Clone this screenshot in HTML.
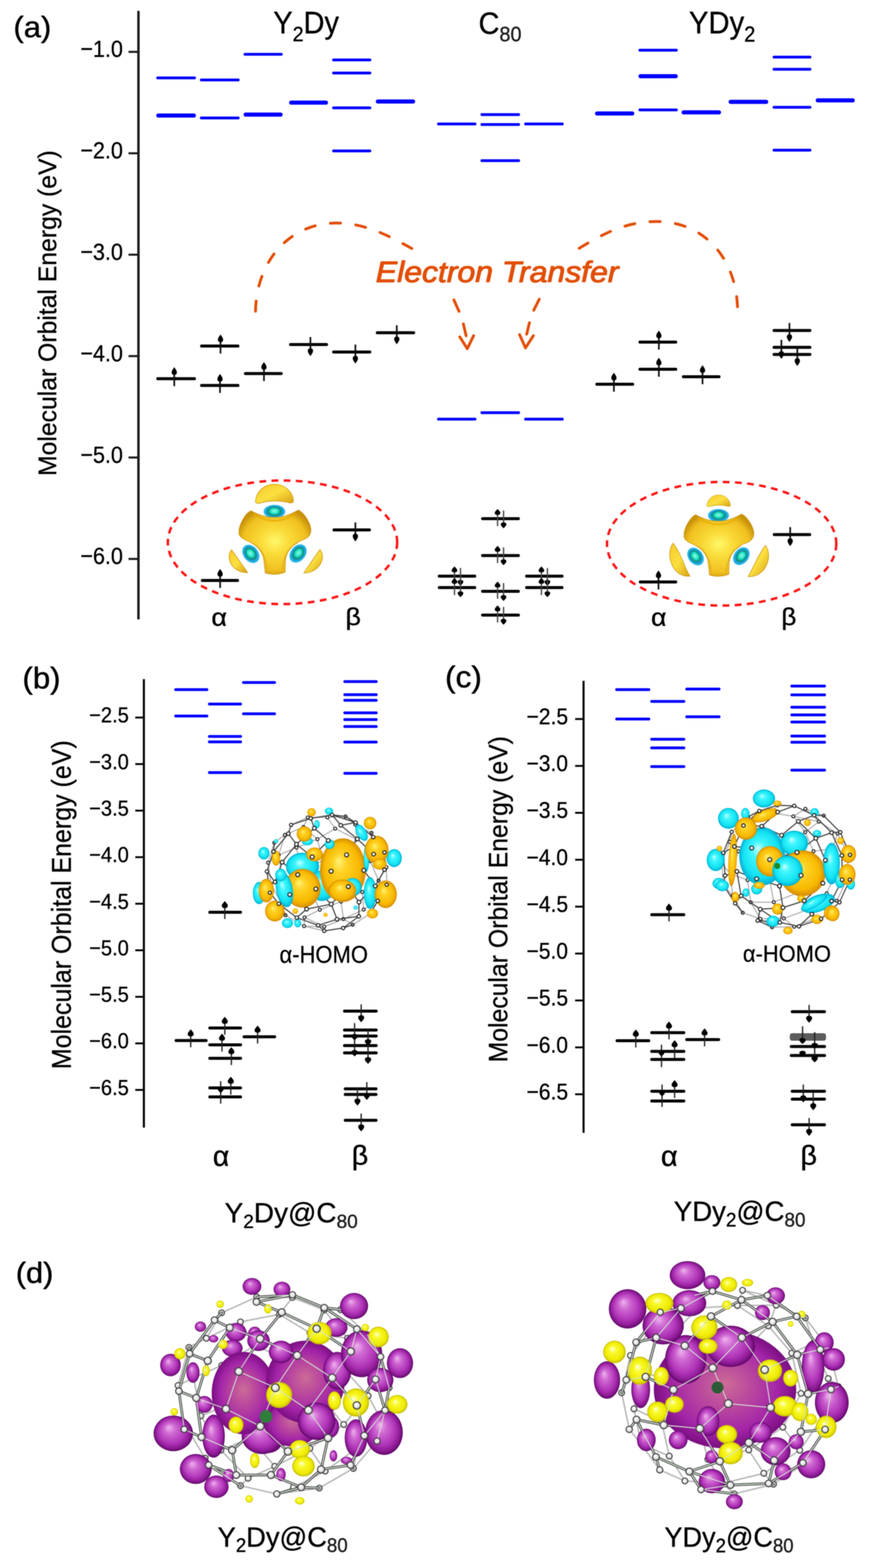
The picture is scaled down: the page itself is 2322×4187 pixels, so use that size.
<!DOCTYPE html><html><head><meta charset="utf-8"><style>html,body{margin:0;padding:0;background:#fff;}svg{display:block;filter:blur(1px);}</style></head><body>
<svg width="2322" height="4187" viewBox="0 0 2322 4187">
<rect width="2322" height="4187" fill="#fff"/>
<line x1="369.5" y1="29" x2="369.5" y2="1654" stroke="#1a1a1a" stroke-width="6.5"/>
<line x1="343" y1="138.5" x2="370" y2="138.5" stroke="#1a1a1a" stroke-width="5.5"/>
<line x1="343" y1="409.3" x2="370" y2="409.3" stroke="#1a1a1a" stroke-width="5.5"/>
<line x1="343" y1="680.1" x2="370" y2="680.1" stroke="#1a1a1a" stroke-width="5.5"/>
<line x1="343" y1="950.9" x2="370" y2="950.9" stroke="#1a1a1a" stroke-width="5.5"/>
<line x1="343" y1="1221.7" x2="370" y2="1221.7" stroke="#1a1a1a" stroke-width="5.5"/>
<line x1="343" y1="1492.5" x2="370" y2="1492.5" stroke="#1a1a1a" stroke-width="5.5"/>
<line x1="420.8" y1="208.0" x2="519.2" y2="208.0" stroke="#0000ff" stroke-width="7.5" stroke-linecap="round"/>
<line x1="422.5" y1="308.5" x2="517.5" y2="308.5" stroke="#0000ff" stroke-width="11" stroke-linecap="round"/>
<line x1="537.2" y1="213.5" x2="635.8" y2="213.5" stroke="#0000ff" stroke-width="7.5" stroke-linecap="round"/>
<line x1="537.2" y1="315.0" x2="635.8" y2="315.0" stroke="#0000ff" stroke-width="7.5" stroke-linecap="round"/>
<line x1="653.8" y1="145.0" x2="750.8" y2="145.0" stroke="#0000ff" stroke-width="7.5" stroke-linecap="round"/>
<line x1="655.5" y1="306.0" x2="749.0" y2="306.0" stroke="#0000ff" stroke-width="11" stroke-linecap="round"/>
<line x1="777.0" y1="274.0" x2="870.0" y2="274.0" stroke="#0000ff" stroke-width="11" stroke-linecap="round"/>
<line x1="890.2" y1="160.0" x2="987.2" y2="160.0" stroke="#0000ff" stroke-width="7.5" stroke-linecap="round"/>
<line x1="890.2" y1="195.0" x2="987.2" y2="195.0" stroke="#0000ff" stroke-width="7.5" stroke-linecap="round"/>
<line x1="890.2" y1="288.0" x2="987.2" y2="288.0" stroke="#0000ff" stroke-width="7.5" stroke-linecap="round"/>
<line x1="890.2" y1="403.0" x2="987.2" y2="403.0" stroke="#0000ff" stroke-width="7.5" stroke-linecap="round"/>
<line x1="1008.5" y1="271.0" x2="1102.5" y2="271.0" stroke="#0000ff" stroke-width="11" stroke-linecap="round"/>
<line x1="1170.2" y1="331.0" x2="1267.8" y2="331.0" stroke="#0000ff" stroke-width="7.5" stroke-linecap="round"/>
<line x1="1170.2" y1="1119.3" x2="1267.8" y2="1119.3" stroke="#0000ff" stroke-width="7.5" stroke-linecap="round"/>
<line x1="1286.2" y1="306.0" x2="1384.2" y2="306.0" stroke="#0000ff" stroke-width="7.5" stroke-linecap="round"/>
<line x1="1286.2" y1="332.5" x2="1384.2" y2="332.5" stroke="#0000ff" stroke-width="7.5" stroke-linecap="round"/>
<line x1="1286.2" y1="429.0" x2="1384.2" y2="429.0" stroke="#0000ff" stroke-width="7.5" stroke-linecap="round"/>
<line x1="1286.2" y1="1102.0" x2="1384.2" y2="1102.0" stroke="#0000ff" stroke-width="7.5" stroke-linecap="round"/>
<line x1="1402.8" y1="331.0" x2="1500.8" y2="331.0" stroke="#0000ff" stroke-width="7.5" stroke-linecap="round"/>
<line x1="1402.8" y1="1119.3" x2="1500.8" y2="1119.3" stroke="#0000ff" stroke-width="7.5" stroke-linecap="round"/>
<line x1="1593.5" y1="303.0" x2="1687.5" y2="303.0" stroke="#0000ff" stroke-width="11" stroke-linecap="round"/>
<line x1="1707.8" y1="134.0" x2="1805.2" y2="134.0" stroke="#0000ff" stroke-width="7.5" stroke-linecap="round"/>
<line x1="1709.5" y1="203.5" x2="1803.5" y2="203.5" stroke="#0000ff" stroke-width="11" stroke-linecap="round"/>
<line x1="1707.8" y1="293.5" x2="1805.2" y2="293.5" stroke="#0000ff" stroke-width="7.5" stroke-linecap="round"/>
<line x1="1824.5" y1="300.0" x2="1919.0" y2="300.0" stroke="#0000ff" stroke-width="11" stroke-linecap="round"/>
<line x1="1950.0" y1="272.0" x2="2045.0" y2="272.0" stroke="#0000ff" stroke-width="11" stroke-linecap="round"/>
<line x1="2065.8" y1="152.5" x2="2161.8" y2="152.5" stroke="#0000ff" stroke-width="7.5" stroke-linecap="round"/>
<line x1="2065.8" y1="185.0" x2="2161.8" y2="185.0" stroke="#0000ff" stroke-width="7.5" stroke-linecap="round"/>
<line x1="2065.8" y1="286.5" x2="2161.8" y2="286.5" stroke="#0000ff" stroke-width="7.5" stroke-linecap="round"/>
<line x1="2065.8" y1="401.0" x2="2161.8" y2="401.0" stroke="#0000ff" stroke-width="7.5" stroke-linecap="round"/>
<line x1="2182.5" y1="268.0" x2="2276.0" y2="268.0" stroke="#0000ff" stroke-width="11" stroke-linecap="round"/>
<line x1="421.0" y1="1011.2" x2="519.0" y2="1011.2" stroke="#000" stroke-width="8" stroke-linecap="round"/>
<line x1="465.1" y1="990.7" x2="465.1" y2="1031.2" stroke="#111" stroke-width="4.5"/>
<path d="M465.1,980.2 C467.6,984.8 472.1,989.0 472.1,994.5 C472.1,999.1 468.7,1001.2 465.1,1001.2 C461.5,1001.2 458.1,999.1 458.1,994.5 C458.1,989.0 462.6,984.8 465.1,980.2 Z" fill="#000"/>
<line x1="538.0" y1="924.0" x2="635.0" y2="924.0" stroke="#000" stroke-width="8" stroke-linecap="round"/>
<line x1="588.5" y1="903.5" x2="588.5" y2="944.0" stroke="#111" stroke-width="4.5"/>
<path d="M588.5,893.0 C591.0,897.6 595.5,901.8 595.5,907.3 C595.5,911.9 592.1,914.0 588.5,914.0 C584.9,914.0 581.5,911.9 581.5,907.3 C581.5,901.8 586.0,897.6 588.5,893.0 Z" fill="#000"/>
<line x1="538.0" y1="1029.2" x2="635.0" y2="1029.2" stroke="#000" stroke-width="8" stroke-linecap="round"/>
<line x1="587.2" y1="1008.7" x2="587.2" y2="1049.2" stroke="#111" stroke-width="4.5"/>
<path d="M587.2,998.2 C589.7,1002.8 594.2,1007.0 594.2,1012.5 C594.2,1017.1 590.8,1019.2 587.2,1019.2 C583.6,1019.2 580.2,1017.1 580.2,1012.5 C580.2,1007.0 584.7,1002.8 587.2,998.2 Z" fill="#000"/>
<line x1="655.0" y1="997.5" x2="750.5" y2="997.5" stroke="#000" stroke-width="8" stroke-linecap="round"/>
<line x1="704.5" y1="977.0" x2="704.5" y2="1017.5" stroke="#111" stroke-width="4.5"/>
<path d="M704.5,966.5 C707.0,971.1 711.5,975.3 711.5,980.8 C711.5,985.4 708.1,987.5 704.5,987.5 C700.9,987.5 697.5,985.4 697.5,980.8 C697.5,975.3 702.0,971.1 704.5,966.5 Z" fill="#000"/>
<line x1="775.5" y1="920.0" x2="871.5" y2="920.0" stroke="#000" stroke-width="8" stroke-linecap="round"/>
<line x1="828.5" y1="900.0" x2="828.5" y2="940.5" stroke="#111" stroke-width="4.5"/>
<path d="M828.5,951.0 C831.0,946.4 835.5,942.2 835.5,936.7 C835.5,932.1 832.1,930.0 828.5,930.0 C824.9,930.0 821.5,932.1 821.5,936.7 C821.5,942.2 826.0,946.4 828.5,951.0 Z" fill="#000"/>
<line x1="890.5" y1="940.0" x2="987.0" y2="940.0" stroke="#000" stroke-width="8" stroke-linecap="round"/>
<line x1="948.5" y1="920.0" x2="948.5" y2="960.5" stroke="#111" stroke-width="4.5"/>
<path d="M948.5,971.0 C951.0,966.4 955.5,962.2 955.5,956.7 C955.5,952.1 952.1,950.0 948.5,950.0 C944.9,950.0 941.5,952.1 941.5,956.7 C941.5,962.2 946.0,966.4 948.5,971.0 Z" fill="#000"/>
<line x1="1007.0" y1="888.5" x2="1104.0" y2="888.5" stroke="#000" stroke-width="8" stroke-linecap="round"/>
<line x1="1059.0" y1="868.5" x2="1059.0" y2="909.0" stroke="#111" stroke-width="4.5"/>
<path d="M1059.0,919.5 C1061.5,914.9 1066.0,910.7 1066.0,905.2 C1066.0,900.6 1062.6,898.5 1059.0,898.5 C1055.4,898.5 1052.0,900.6 1052.0,905.2 C1052.0,910.7 1056.5,914.9 1059.0,919.5 Z" fill="#000"/>
<line x1="540.0" y1="1550.0" x2="634.0" y2="1550.0" stroke="#000" stroke-width="8" stroke-linecap="round"/>
<line x1="587.5" y1="1529.5" x2="587.5" y2="1570.0" stroke="#111" stroke-width="4.5"/>
<path d="M587.5,1519.0 C590.0,1523.6 594.5,1527.8 594.5,1533.3 C594.5,1537.9 591.1,1540.0 587.5,1540.0 C583.9,1540.0 580.5,1537.9 580.5,1533.3 C580.5,1527.8 585.0,1523.6 587.5,1519.0 Z" fill="#000"/>
<line x1="891.5" y1="1415.0" x2="986.0" y2="1415.0" stroke="#000" stroke-width="8" stroke-linecap="round"/>
<line x1="948.5" y1="1395.0" x2="948.5" y2="1435.5" stroke="#111" stroke-width="4.5"/>
<path d="M948.5,1446.0 C951.0,1441.4 955.5,1437.2 955.5,1431.7 C955.5,1427.1 952.1,1425.0 948.5,1425.0 C944.9,1425.0 941.5,1427.1 941.5,1431.7 C941.5,1437.2 946.0,1441.4 948.5,1446.0 Z" fill="#000"/>
<line x1="1593.0" y1="1026.0" x2="1688.5" y2="1026.0" stroke="#000" stroke-width="8" stroke-linecap="round"/>
<line x1="1638.5" y1="1005.5" x2="1638.5" y2="1046.0" stroke="#111" stroke-width="4.5"/>
<path d="M1638.5,995.0 C1641.0,999.6 1645.5,1003.8 1645.5,1009.3 C1645.5,1013.9 1642.1,1016.0 1638.5,1016.0 C1634.9,1016.0 1631.5,1013.9 1631.5,1009.3 C1631.5,1003.8 1636.0,999.6 1638.5,995.0 Z" fill="#000"/>
<line x1="1708.0" y1="913.5" x2="1803.5" y2="913.5" stroke="#000" stroke-width="8" stroke-linecap="round"/>
<line x1="1758.5" y1="893.0" x2="1758.5" y2="933.5" stroke="#111" stroke-width="4.5"/>
<path d="M1758.5,882.5 C1761.0,887.1 1765.5,891.3 1765.5,896.8 C1765.5,901.4 1762.1,903.5 1758.5,903.5 C1754.9,903.5 1751.5,901.4 1751.5,896.8 C1751.5,891.3 1756.0,887.1 1758.5,882.5 Z" fill="#000"/>
<line x1="1708.0" y1="986.0" x2="1803.5" y2="986.0" stroke="#000" stroke-width="8" stroke-linecap="round"/>
<line x1="1758.5" y1="965.5" x2="1758.5" y2="1006.0" stroke="#111" stroke-width="4.5"/>
<path d="M1758.5,955.0 C1761.0,959.6 1765.5,963.8 1765.5,969.3 C1765.5,973.9 1762.1,976.0 1758.5,976.0 C1754.9,976.0 1751.5,973.9 1751.5,969.3 C1751.5,963.8 1756.0,959.6 1758.5,955.0 Z" fill="#000"/>
<line x1="1824.0" y1="1006.0" x2="1919.0" y2="1006.0" stroke="#000" stroke-width="8" stroke-linecap="round"/>
<line x1="1875.0" y1="985.5" x2="1875.0" y2="1026.0" stroke="#111" stroke-width="4.5"/>
<path d="M1875.0,975.0 C1877.5,979.6 1882.0,983.8 1882.0,989.3 C1882.0,993.9 1878.6,996.0 1875.0,996.0 C1871.4,996.0 1868.0,993.9 1868.0,989.3 C1868.0,983.8 1872.5,979.6 1875.0,975.0 Z" fill="#000"/>
<line x1="2066.0" y1="882.5" x2="2161.5" y2="882.5" stroke="#000" stroke-width="8" stroke-linecap="round"/>
<line x1="2107.0" y1="862.5" x2="2107.0" y2="903.0" stroke="#111" stroke-width="4.5"/>
<path d="M2107.0,913.5 C2109.5,908.9 2114.0,904.7 2114.0,899.2 C2114.0,894.6 2110.6,892.5 2107.0,892.5 C2103.4,892.5 2100.0,894.6 2100.0,899.2 C2100.0,904.7 2104.5,908.9 2107.0,913.5 Z" fill="#000"/>
<line x1="2066.0" y1="927.5" x2="2161.5" y2="927.5" stroke="#000" stroke-width="8" stroke-linecap="round"/>
<line x1="2085.5" y1="907.5" x2="2085.5" y2="948.0" stroke="#111" stroke-width="4.5"/>
<path d="M2085.5,958.5 C2088.0,953.9 2092.5,949.7 2092.5,944.2 C2092.5,939.6 2089.1,937.5 2085.5,937.5 C2081.9,937.5 2078.5,939.6 2078.5,944.2 C2078.5,949.7 2083.0,953.9 2085.5,958.5 Z" fill="#000"/>
<line x1="2066.0" y1="946.5" x2="2161.5" y2="946.5" stroke="#000" stroke-width="8" stroke-linecap="round"/>
<line x1="2128.0" y1="926.5" x2="2128.0" y2="967.0" stroke="#111" stroke-width="4.5"/>
<path d="M2128.0,977.5 C2130.5,972.9 2135.0,968.7 2135.0,963.2 C2135.0,958.6 2131.6,956.5 2128.0,956.5 C2124.4,956.5 2121.0,958.6 2121.0,963.2 C2121.0,968.7 2125.5,972.9 2128.0,977.5 Z" fill="#000"/>
<line x1="1709.0" y1="1554.0" x2="1803.5" y2="1554.0" stroke="#000" stroke-width="8" stroke-linecap="round"/>
<line x1="1757.5" y1="1533.5" x2="1757.5" y2="1574.0" stroke="#111" stroke-width="4.5"/>
<path d="M1757.5,1523.0 C1760.0,1527.6 1764.5,1531.8 1764.5,1537.3 C1764.5,1541.9 1761.1,1544.0 1757.5,1544.0 C1753.9,1544.0 1750.5,1541.9 1750.5,1537.3 C1750.5,1531.8 1755.0,1527.6 1757.5,1523.0 Z" fill="#000"/>
<line x1="2066.5" y1="1427.5" x2="2161.0" y2="1427.5" stroke="#000" stroke-width="8" stroke-linecap="round"/>
<line x1="2109.0" y1="1407.5" x2="2109.0" y2="1448.0" stroke="#111" stroke-width="4.5"/>
<path d="M2109.0,1458.5 C2111.5,1453.9 2116.0,1449.7 2116.0,1444.2 C2116.0,1439.6 2112.6,1437.5 2109.0,1437.5 C2105.4,1437.5 2102.0,1439.6 2102.0,1444.2 C2102.0,1449.7 2106.5,1453.9 2109.0,1458.5 Z" fill="#000"/>
<line x1="1288.0" y1="1385.0" x2="1383.5" y2="1385.0" stroke="#000" stroke-width="8" stroke-linecap="round"/>
<line x1="1328.0" y1="1367.0" x2="1328.0" y2="1405.0" stroke="#444" stroke-width="3.5"/>
<path d="M1328.0,1359.0 C1330.7,1362.5 1335.5,1365.7 1335.5,1369.9 C1335.5,1373.4 1331.9,1375.0 1328.0,1375.0 C1324.1,1375.0 1320.5,1373.4 1320.5,1369.9 C1320.5,1365.7 1325.3,1362.5 1328.0,1359.0 Z" fill="#000"/>
<line x1="1344.0" y1="1363.0" x2="1344.0" y2="1403.0" stroke="#444" stroke-width="3.5"/>
<path d="M1344.0,1411.0 C1346.7,1407.5 1351.5,1404.3 1351.5,1400.1 C1351.5,1396.6 1347.9,1395.0 1344.0,1395.0 C1340.1,1395.0 1336.5,1396.6 1336.5,1400.1 C1336.5,1404.3 1341.3,1407.5 1344.0,1411.0 Z" fill="#000"/>
<line x1="1288.0" y1="1483.5" x2="1383.5" y2="1483.5" stroke="#000" stroke-width="8" stroke-linecap="round"/>
<line x1="1328.0" y1="1465.5" x2="1328.0" y2="1503.5" stroke="#444" stroke-width="3.5"/>
<path d="M1328.0,1457.5 C1330.7,1461.0 1335.5,1464.2 1335.5,1468.4 C1335.5,1471.9 1331.9,1473.5 1328.0,1473.5 C1324.1,1473.5 1320.5,1471.9 1320.5,1468.4 C1320.5,1464.2 1325.3,1461.0 1328.0,1457.5 Z" fill="#000"/>
<line x1="1344.0" y1="1461.5" x2="1344.0" y2="1501.5" stroke="#444" stroke-width="3.5"/>
<path d="M1344.0,1509.5 C1346.7,1506.0 1351.5,1502.8 1351.5,1498.6 C1351.5,1495.1 1347.9,1493.5 1344.0,1493.5 C1340.1,1493.5 1336.5,1495.1 1336.5,1498.6 C1336.5,1502.8 1341.3,1506.0 1344.0,1509.5 Z" fill="#000"/>
<line x1="1288.0" y1="1579.0" x2="1383.5" y2="1579.0" stroke="#000" stroke-width="8" stroke-linecap="round"/>
<line x1="1328.0" y1="1561.0" x2="1328.0" y2="1599.0" stroke="#444" stroke-width="3.5"/>
<path d="M1328.0,1553.0 C1330.7,1556.5 1335.5,1559.7 1335.5,1563.9 C1335.5,1567.4 1331.9,1569.0 1328.0,1569.0 C1324.1,1569.0 1320.5,1567.4 1320.5,1563.9 C1320.5,1559.7 1325.3,1556.5 1328.0,1553.0 Z" fill="#000"/>
<line x1="1344.0" y1="1557.0" x2="1344.0" y2="1597.0" stroke="#444" stroke-width="3.5"/>
<path d="M1344.0,1605.0 C1346.7,1601.5 1351.5,1598.3 1351.5,1594.1 C1351.5,1590.6 1347.9,1589.0 1344.0,1589.0 C1340.1,1589.0 1336.5,1590.6 1336.5,1594.1 C1336.5,1598.3 1341.3,1601.5 1344.0,1605.0 Z" fill="#000"/>
<line x1="1288.0" y1="1642.5" x2="1383.5" y2="1642.5" stroke="#000" stroke-width="8" stroke-linecap="round"/>
<line x1="1328.0" y1="1624.5" x2="1328.0" y2="1662.5" stroke="#444" stroke-width="3.5"/>
<path d="M1328.0,1616.5 C1330.7,1620.0 1335.5,1623.2 1335.5,1627.4 C1335.5,1630.9 1331.9,1632.5 1328.0,1632.5 C1324.1,1632.5 1320.5,1630.9 1320.5,1627.4 C1320.5,1623.2 1325.3,1620.0 1328.0,1616.5 Z" fill="#000"/>
<line x1="1344.0" y1="1620.5" x2="1344.0" y2="1660.5" stroke="#444" stroke-width="3.5"/>
<path d="M1344.0,1668.5 C1346.7,1665.0 1351.5,1661.8 1351.5,1657.6 C1351.5,1654.1 1347.9,1652.5 1344.0,1652.5 C1340.1,1652.5 1336.5,1654.1 1336.5,1657.6 C1336.5,1661.8 1341.3,1665.0 1344.0,1668.5 Z" fill="#000"/>
<line x1="1172.5" y1="1538.5" x2="1267.0" y2="1538.5" stroke="#000" stroke-width="8" stroke-linecap="round"/>
<line x1="1213.0" y1="1520.5" x2="1213.0" y2="1558.5" stroke="#444" stroke-width="3.5"/>
<path d="M1213.0,1512.5 C1215.7,1516.0 1220.5,1519.2 1220.5,1523.4 C1220.5,1526.9 1216.9,1528.5 1213.0,1528.5 C1209.1,1528.5 1205.5,1526.9 1205.5,1523.4 C1205.5,1519.2 1210.3,1516.0 1213.0,1512.5 Z" fill="#000"/>
<line x1="1229.0" y1="1516.5" x2="1229.0" y2="1556.5" stroke="#444" stroke-width="3.5"/>
<path d="M1229.0,1564.5 C1231.7,1561.0 1236.5,1557.8 1236.5,1553.6 C1236.5,1550.1 1232.9,1548.5 1229.0,1548.5 C1225.1,1548.5 1221.5,1550.1 1221.5,1553.6 C1221.5,1557.8 1226.3,1561.0 1229.0,1564.5 Z" fill="#000"/>
<line x1="1172.5" y1="1569.0" x2="1267.0" y2="1569.0" stroke="#000" stroke-width="8" stroke-linecap="round"/>
<line x1="1213.0" y1="1551.0" x2="1213.0" y2="1589.0" stroke="#444" stroke-width="3.5"/>
<path d="M1213.0,1543.0 C1215.7,1546.5 1220.5,1549.7 1220.5,1553.9 C1220.5,1557.4 1216.9,1559.0 1213.0,1559.0 C1209.1,1559.0 1205.5,1557.4 1205.5,1553.9 C1205.5,1549.7 1210.3,1546.5 1213.0,1543.0 Z" fill="#000"/>
<line x1="1229.0" y1="1547.0" x2="1229.0" y2="1587.0" stroke="#444" stroke-width="3.5"/>
<path d="M1229.0,1595.0 C1231.7,1591.5 1236.5,1588.3 1236.5,1584.1 C1236.5,1580.6 1232.9,1579.0 1229.0,1579.0 C1225.1,1579.0 1221.5,1580.6 1221.5,1584.1 C1221.5,1588.3 1226.3,1591.5 1229.0,1595.0 Z" fill="#000"/>
<line x1="1405.5" y1="1538.5" x2="1500.0" y2="1538.5" stroke="#000" stroke-width="8" stroke-linecap="round"/>
<line x1="1445.0" y1="1520.5" x2="1445.0" y2="1558.5" stroke="#444" stroke-width="3.5"/>
<path d="M1445.0,1512.5 C1447.7,1516.0 1452.5,1519.2 1452.5,1523.4 C1452.5,1526.9 1448.9,1528.5 1445.0,1528.5 C1441.1,1528.5 1437.5,1526.9 1437.5,1523.4 C1437.5,1519.2 1442.3,1516.0 1445.0,1512.5 Z" fill="#000"/>
<line x1="1461.0" y1="1516.5" x2="1461.0" y2="1556.5" stroke="#444" stroke-width="3.5"/>
<path d="M1461.0,1564.5 C1463.7,1561.0 1468.5,1557.8 1468.5,1553.6 C1468.5,1550.1 1464.9,1548.5 1461.0,1548.5 C1457.1,1548.5 1453.5,1550.1 1453.5,1553.6 C1453.5,1557.8 1458.3,1561.0 1461.0,1564.5 Z" fill="#000"/>
<line x1="1405.5" y1="1569.0" x2="1500.0" y2="1569.0" stroke="#000" stroke-width="8" stroke-linecap="round"/>
<line x1="1445.0" y1="1551.0" x2="1445.0" y2="1589.0" stroke="#444" stroke-width="3.5"/>
<path d="M1445.0,1543.0 C1447.7,1546.5 1452.5,1549.7 1452.5,1553.9 C1452.5,1557.4 1448.9,1559.0 1445.0,1559.0 C1441.1,1559.0 1437.5,1557.4 1437.5,1553.9 C1437.5,1549.7 1442.3,1546.5 1445.0,1543.0 Z" fill="#000"/>
<line x1="1461.0" y1="1547.0" x2="1461.0" y2="1587.0" stroke="#444" stroke-width="3.5"/>
<path d="M1461.0,1595.0 C1463.7,1591.5 1468.5,1588.3 1468.5,1584.1 C1468.5,1580.6 1464.9,1579.0 1461.0,1579.0 C1457.1,1579.0 1453.5,1580.6 1453.5,1584.1 C1453.5,1588.3 1458.3,1591.5 1461.0,1595.0 Z" fill="#000"/>
<path d="M682,831 C684,701 769,595.5 899,595.5 C979,595.5 1046,634.7 1100,664" fill="none" stroke="#e24e06" stroke-width="7.5" stroke-linecap="round" stroke-dasharray="27,41"/>
<path d="M1546,663 C1616,619.25 1677,591.5 1752,591.5 C1880,591.5 1966,690 1968.6,827" fill="none" stroke="#e24e06" stroke-width="7.5" stroke-linecap="round" stroke-dasharray="27,41"/>
<path d="M1211.5,801 L1225.1,831.4 M1236.7,865 L1244,896.5 M1227.2,899.7 L1247.2,931.2 L1264,896.5" fill="none" stroke="#e24e06" stroke-width="7.5" stroke-linecap="round" stroke-linejoin="round"/>
<path d="M1439.3,798.9 L1424.6,828.3 M1413,861.9 L1405.7,892.3 M1386.8,893.4 L1402.5,929 L1423.5,896.5" fill="none" stroke="#e24e06" stroke-width="7.5" stroke-linecap="round" stroke-linejoin="round"/>
<ellipse cx="754" cy="1448" rx="306" ry="165" fill="none" stroke="#ff1414" stroke-width="6.5" stroke-dasharray="18,14.5"/>
<ellipse cx="1926" cy="1452" rx="306" ry="165" fill="none" stroke="#ff1414" stroke-width="6.5" stroke-dasharray="18,14.5"/>
<line x1="384" y1="1813.5" x2="384" y2="3011" stroke="#000" stroke-width="5.5"/>
<line x1="1557.5" y1="1818" x2="1557.5" y2="3025" stroke="#000" stroke-width="5.5"/>
<line x1="361" y1="1916.0" x2="384" y2="1916.0" stroke="#000" stroke-width="5"/>
<line x1="1535" y1="1920.0" x2="1558" y2="1920.0" stroke="#000" stroke-width="5"/>
<line x1="361" y1="2040.3" x2="384" y2="2040.3" stroke="#000" stroke-width="5"/>
<line x1="1535" y1="2045.2" x2="1558" y2="2045.2" stroke="#000" stroke-width="5"/>
<line x1="361" y1="2164.6" x2="384" y2="2164.6" stroke="#000" stroke-width="5"/>
<line x1="1535" y1="2170.5" x2="1558" y2="2170.5" stroke="#000" stroke-width="5"/>
<line x1="361" y1="2288.9" x2="384" y2="2288.9" stroke="#000" stroke-width="5"/>
<line x1="1535" y1="2295.8" x2="1558" y2="2295.8" stroke="#000" stroke-width="5"/>
<line x1="361" y1="2413.2" x2="384" y2="2413.2" stroke="#000" stroke-width="5"/>
<line x1="1535" y1="2421.0" x2="1558" y2="2421.0" stroke="#000" stroke-width="5"/>
<line x1="361" y1="2537.5" x2="384" y2="2537.5" stroke="#000" stroke-width="5"/>
<line x1="1535" y1="2546.2" x2="1558" y2="2546.2" stroke="#000" stroke-width="5"/>
<line x1="361" y1="2661.8" x2="384" y2="2661.8" stroke="#000" stroke-width="5"/>
<line x1="1535" y1="2671.5" x2="1558" y2="2671.5" stroke="#000" stroke-width="5"/>
<line x1="361" y1="2786.1" x2="384" y2="2786.1" stroke="#000" stroke-width="5"/>
<line x1="1535" y1="2796.8" x2="1558" y2="2796.8" stroke="#000" stroke-width="5"/>
<line x1="361" y1="2910.4" x2="384" y2="2910.4" stroke="#000" stroke-width="5"/>
<line x1="1535" y1="2922.0" x2="1558" y2="2922.0" stroke="#000" stroke-width="5"/>
<line x1="468.8" y1="1841.5" x2="552.2" y2="1841.5" stroke="#0000ff" stroke-width="7.5" stroke-linecap="round"/>
<line x1="468.8" y1="1912.0" x2="552.2" y2="1912.0" stroke="#0000ff" stroke-width="7.5" stroke-linecap="round"/>
<line x1="558.8" y1="1880.0" x2="642.2" y2="1880.0" stroke="#0000ff" stroke-width="7.5" stroke-linecap="round"/>
<line x1="558.8" y1="1966.5" x2="642.2" y2="1966.5" stroke="#0000ff" stroke-width="7.5" stroke-linecap="round"/>
<line x1="558.8" y1="1981.0" x2="642.2" y2="1981.0" stroke="#0000ff" stroke-width="7.5" stroke-linecap="round"/>
<line x1="558.8" y1="2063.0" x2="642.2" y2="2063.0" stroke="#0000ff" stroke-width="7.5" stroke-linecap="round"/>
<line x1="649.8" y1="1822.5" x2="732.8" y2="1822.5" stroke="#0000ff" stroke-width="7.5" stroke-linecap="round"/>
<line x1="649.8" y1="1906.0" x2="732.8" y2="1906.0" stroke="#0000ff" stroke-width="7.5" stroke-linecap="round"/>
<line x1="920.2" y1="1820.0" x2="1004.2" y2="1820.0" stroke="#0000ff" stroke-width="7.5" stroke-linecap="round"/>
<line x1="920.2" y1="1855.0" x2="1004.2" y2="1855.0" stroke="#0000ff" stroke-width="7.5" stroke-linecap="round"/>
<line x1="920.2" y1="1870.0" x2="1004.2" y2="1870.0" stroke="#0000ff" stroke-width="7.5" stroke-linecap="round"/>
<line x1="920.2" y1="1903.5" x2="1004.2" y2="1903.5" stroke="#0000ff" stroke-width="7.5" stroke-linecap="round"/>
<line x1="920.2" y1="1921.5" x2="1004.2" y2="1921.5" stroke="#0000ff" stroke-width="7.5" stroke-linecap="round"/>
<line x1="920.2" y1="1940.0" x2="1004.2" y2="1940.0" stroke="#0000ff" stroke-width="7.5" stroke-linecap="round"/>
<line x1="920.2" y1="1981.5" x2="1004.2" y2="1981.5" stroke="#0000ff" stroke-width="7.5" stroke-linecap="round"/>
<line x1="920.2" y1="2065.0" x2="1004.2" y2="2065.0" stroke="#0000ff" stroke-width="7.5" stroke-linecap="round"/>
<line x1="1645.8" y1="1841.5" x2="1731.8" y2="1841.5" stroke="#0000ff" stroke-width="7.5" stroke-linecap="round"/>
<line x1="1645.8" y1="1920.0" x2="1731.8" y2="1920.0" stroke="#0000ff" stroke-width="7.5" stroke-linecap="round"/>
<line x1="1739.2" y1="1873.0" x2="1825.2" y2="1873.0" stroke="#0000ff" stroke-width="7.5" stroke-linecap="round"/>
<line x1="1739.2" y1="1974.0" x2="1825.2" y2="1974.0" stroke="#0000ff" stroke-width="7.5" stroke-linecap="round"/>
<line x1="1739.2" y1="1997.0" x2="1825.2" y2="1997.0" stroke="#0000ff" stroke-width="7.5" stroke-linecap="round"/>
<line x1="1739.2" y1="2047.0" x2="1825.2" y2="2047.0" stroke="#0000ff" stroke-width="7.5" stroke-linecap="round"/>
<line x1="1832.8" y1="1840.0" x2="1919.2" y2="1840.0" stroke="#0000ff" stroke-width="7.5" stroke-linecap="round"/>
<line x1="1832.8" y1="1914.0" x2="1919.2" y2="1914.0" stroke="#0000ff" stroke-width="7.5" stroke-linecap="round"/>
<line x1="2113.2" y1="1832.0" x2="2200.8" y2="1832.0" stroke="#0000ff" stroke-width="7.5" stroke-linecap="round"/>
<line x1="2113.2" y1="1855.5" x2="2200.8" y2="1855.5" stroke="#0000ff" stroke-width="7.5" stroke-linecap="round"/>
<line x1="2113.2" y1="1888.5" x2="2200.8" y2="1888.5" stroke="#0000ff" stroke-width="7.5" stroke-linecap="round"/>
<line x1="2113.2" y1="1909.0" x2="2200.8" y2="1909.0" stroke="#0000ff" stroke-width="7.5" stroke-linecap="round"/>
<line x1="2113.2" y1="1928.0" x2="2200.8" y2="1928.0" stroke="#0000ff" stroke-width="7.5" stroke-linecap="round"/>
<line x1="2113.2" y1="1965.5" x2="2200.8" y2="1965.5" stroke="#0000ff" stroke-width="7.5" stroke-linecap="round"/>
<line x1="2113.2" y1="1982.0" x2="2200.8" y2="1982.0" stroke="#0000ff" stroke-width="7.5" stroke-linecap="round"/>
<line x1="2113.2" y1="2056.5" x2="2200.8" y2="2056.5" stroke="#0000ff" stroke-width="7.5" stroke-linecap="round"/>
<line x1="560.0" y1="2436.0" x2="642.0" y2="2436.0" stroke="#000" stroke-width="8" stroke-linecap="round"/>
<line x1="600.0" y1="2415.5" x2="600.0" y2="2454.0" stroke="#222" stroke-width="3.5"/>
<path d="M600.0,2406.0 C602.9,2410.2 608.0,2414.0 608.0,2418.9 C608.0,2423.1 604.2,2425.0 600.0,2425.0 C595.8,2425.0 592.0,2423.1 592.0,2418.9 C592.0,2414.0 597.1,2410.2 600.0,2406.0 Z" fill="#000"/>
<line x1="470.0" y1="2778.5" x2="550.0" y2="2778.5" stroke="#000" stroke-width="8" stroke-linecap="round"/>
<line x1="509.0" y1="2758.0" x2="509.0" y2="2796.5" stroke="#222" stroke-width="3.5"/>
<path d="M509.0,2748.5 C511.9,2752.7 517.0,2756.5 517.0,2761.4 C517.0,2765.6 513.2,2767.5 509.0,2767.5 C504.8,2767.5 501.0,2765.6 501.0,2761.4 C501.0,2756.5 506.1,2752.7 509.0,2748.5 Z" fill="#000"/>
<line x1="560.0" y1="2745.0" x2="642.0" y2="2745.0" stroke="#000" stroke-width="8" stroke-linecap="round"/>
<line x1="600.0" y1="2724.5" x2="600.0" y2="2763.0" stroke="#222" stroke-width="3.5"/>
<path d="M600.0,2715.0 C602.9,2719.2 608.0,2723.0 608.0,2727.9 C608.0,2732.1 604.2,2734.0 600.0,2734.0 C595.8,2734.0 592.0,2732.1 592.0,2727.9 C592.0,2723.0 597.1,2719.2 600.0,2715.0 Z" fill="#000"/>
<line x1="560.0" y1="2790.0" x2="642.0" y2="2790.0" stroke="#000" stroke-width="8" stroke-linecap="round"/>
<line x1="592.5" y1="2769.5" x2="592.5" y2="2808.0" stroke="#222" stroke-width="3.5"/>
<path d="M592.5,2760.0 C595.4,2764.2 600.5,2768.0 600.5,2772.9 C600.5,2777.1 596.7,2779.0 592.5,2779.0 C588.3,2779.0 584.5,2777.1 584.5,2772.9 C584.5,2768.0 589.6,2764.2 592.5,2760.0 Z" fill="#000"/>
<line x1="560.0" y1="2826.0" x2="642.0" y2="2826.0" stroke="#000" stroke-width="8" stroke-linecap="round"/>
<line x1="617.5" y1="2805.5" x2="617.5" y2="2844.0" stroke="#222" stroke-width="3.5"/>
<path d="M617.5,2796.0 C620.4,2800.2 625.5,2804.0 625.5,2808.9 C625.5,2813.1 621.7,2815.0 617.5,2815.0 C613.3,2815.0 609.5,2813.1 609.5,2808.9 C609.5,2804.0 614.6,2800.2 617.5,2796.0 Z" fill="#000"/>
<line x1="560.0" y1="2905.0" x2="642.0" y2="2905.0" stroke="#000" stroke-width="8" stroke-linecap="round"/>
<line x1="616.0" y1="2884.5" x2="616.0" y2="2923.0" stroke="#222" stroke-width="3.5"/>
<path d="M616.0,2875.0 C618.9,2879.2 624.0,2883.0 624.0,2887.9 C624.0,2892.1 620.2,2894.0 616.0,2894.0 C611.8,2894.0 608.0,2892.1 608.0,2887.9 C608.0,2883.0 613.1,2879.2 616.0,2875.0 Z" fill="#000"/>
<line x1="560.0" y1="2929.0" x2="642.0" y2="2929.0" stroke="#000" stroke-width="8" stroke-linecap="round"/>
<line x1="651.5" y1="2768.5" x2="733.0" y2="2768.5" stroke="#000" stroke-width="8" stroke-linecap="round"/>
<line x1="687.5" y1="2748.0" x2="687.5" y2="2786.5" stroke="#222" stroke-width="3.5"/>
<path d="M687.5,2738.5 C690.4,2742.7 695.5,2746.5 695.5,2751.4 C695.5,2755.6 691.7,2757.5 687.5,2757.5 C683.3,2757.5 679.5,2755.6 679.5,2751.4 C679.5,2746.5 684.6,2742.7 687.5,2738.5 Z" fill="#000"/>
<line x1="919.5" y1="2700.0" x2="1004.0" y2="2700.0" stroke="#000" stroke-width="8" stroke-linecap="round"/>
<line x1="964.0" y1="2682.0" x2="964.0" y2="2720.5" stroke="#222" stroke-width="3.5"/>
<path d="M964.0,2730.0 C966.9,2725.8 972.0,2722.0 972.0,2717.1 C972.0,2712.9 968.2,2711.0 964.0,2711.0 C959.8,2711.0 956.0,2712.9 956.0,2717.1 C956.0,2722.0 961.1,2725.8 964.0,2730.0 Z" fill="#000"/>
<line x1="919.5" y1="2750.5" x2="1004.0" y2="2750.5" stroke="#000" stroke-width="8" stroke-linecap="round"/>
<line x1="919.5" y1="2766.5" x2="1004.0" y2="2766.5" stroke="#000" stroke-width="8" stroke-linecap="round"/>
<line x1="919.5" y1="2792.0" x2="1004.0" y2="2792.0" stroke="#000" stroke-width="8" stroke-linecap="round"/>
<line x1="919.5" y1="2811.5" x2="1004.0" y2="2811.5" stroke="#000" stroke-width="8" stroke-linecap="round"/>
<line x1="921.5" y1="2907.5" x2="1003.5" y2="2907.5" stroke="#000" stroke-width="8" stroke-linecap="round"/>
<line x1="979.0" y1="2889.5" x2="979.0" y2="2928.0" stroke="#222" stroke-width="3.5"/>
<path d="M979.0,2937.5 C981.9,2933.3 987.0,2929.5 987.0,2924.6 C987.0,2920.4 983.2,2918.5 979.0,2918.5 C974.8,2918.5 971.0,2920.4 971.0,2924.6 C971.0,2929.5 976.1,2933.3 979.0,2937.5 Z" fill="#000"/>
<line x1="921.5" y1="2922.5" x2="1003.5" y2="2922.5" stroke="#000" stroke-width="8" stroke-linecap="round"/>
<line x1="954.0" y1="2904.5" x2="954.0" y2="2943.0" stroke="#222" stroke-width="3.5"/>
<path d="M954.0,2952.5 C956.9,2948.3 962.0,2944.5 962.0,2939.6 C962.0,2935.4 958.2,2933.5 954.0,2933.5 C949.8,2933.5 946.0,2935.4 946.0,2939.6 C946.0,2944.5 951.1,2948.3 954.0,2952.5 Z" fill="#000"/>
<line x1="921.5" y1="2991.5" x2="1003.5" y2="2991.5" stroke="#000" stroke-width="8" stroke-linecap="round"/>
<line x1="964.0" y1="2973.5" x2="964.0" y2="3012.0" stroke="#222" stroke-width="3.5"/>
<path d="M964.0,3021.5 C966.9,3017.3 972.0,3013.5 972.0,3008.6 C972.0,3004.4 968.2,3002.5 964.0,3002.5 C959.8,3002.5 956.0,3004.4 956.0,3008.6 C956.0,3013.5 961.1,3017.3 964.0,3021.5 Z" fill="#000"/>
<line x1="1739.5" y1="2442.5" x2="1825.0" y2="2442.5" stroke="#000" stroke-width="8" stroke-linecap="round"/>
<line x1="1785.5" y1="2422.0" x2="1785.5" y2="2460.5" stroke="#222" stroke-width="3.5"/>
<path d="M1785.5,2412.5 C1788.4,2416.7 1793.5,2420.5 1793.5,2425.4 C1793.5,2429.6 1789.7,2431.5 1785.5,2431.5 C1781.3,2431.5 1777.5,2429.6 1777.5,2425.4 C1777.5,2420.5 1782.6,2416.7 1785.5,2412.5 Z" fill="#000"/>
<line x1="1647.0" y1="2779.0" x2="1731.5" y2="2779.0" stroke="#000" stroke-width="8" stroke-linecap="round"/>
<line x1="1697.0" y1="2758.5" x2="1697.0" y2="2797.0" stroke="#222" stroke-width="3.5"/>
<path d="M1697.0,2749.0 C1699.9,2753.2 1705.0,2757.0 1705.0,2761.9 C1705.0,2766.1 1701.2,2768.0 1697.0,2768.0 C1692.8,2768.0 1689.0,2766.1 1689.0,2761.9 C1689.0,2757.0 1694.1,2753.2 1697.0,2749.0 Z" fill="#000"/>
<line x1="1739.5" y1="2757.5" x2="1825.0" y2="2757.5" stroke="#000" stroke-width="8" stroke-linecap="round"/>
<line x1="1785.5" y1="2737.0" x2="1785.5" y2="2775.5" stroke="#222" stroke-width="3.5"/>
<path d="M1785.5,2727.5 C1788.4,2731.7 1793.5,2735.5 1793.5,2740.4 C1793.5,2744.6 1789.7,2746.5 1785.5,2746.5 C1781.3,2746.5 1777.5,2744.6 1777.5,2740.4 C1777.5,2735.5 1782.6,2731.7 1785.5,2727.5 Z" fill="#000"/>
<line x1="1739.5" y1="2807.5" x2="1825.0" y2="2807.5" stroke="#000" stroke-width="8" stroke-linecap="round"/>
<line x1="1800.5" y1="2787.0" x2="1800.5" y2="2825.5" stroke="#222" stroke-width="3.5"/>
<path d="M1800.5,2777.5 C1803.4,2781.7 1808.5,2785.5 1808.5,2790.4 C1808.5,2794.6 1804.7,2796.5 1800.5,2796.5 C1796.3,2796.5 1792.5,2794.6 1792.5,2790.4 C1792.5,2785.5 1797.6,2781.7 1800.5,2777.5 Z" fill="#000"/>
<line x1="1739.5" y1="2829.0" x2="1825.0" y2="2829.0" stroke="#000" stroke-width="8" stroke-linecap="round"/>
<line x1="1833.0" y1="2776.0" x2="1918.0" y2="2776.0" stroke="#000" stroke-width="8" stroke-linecap="round"/>
<line x1="1880.5" y1="2755.5" x2="1880.5" y2="2794.0" stroke="#222" stroke-width="3.5"/>
<path d="M1880.5,2746.0 C1883.4,2750.2 1888.5,2754.0 1888.5,2758.9 C1888.5,2763.1 1884.7,2765.0 1880.5,2765.0 C1876.3,2765.0 1872.5,2763.1 1872.5,2758.9 C1872.5,2754.0 1877.6,2750.2 1880.5,2746.0 Z" fill="#000"/>
<line x1="1739.5" y1="2914.0" x2="1825.0" y2="2914.0" stroke="#000" stroke-width="8" stroke-linecap="round"/>
<line x1="1800.5" y1="2893.5" x2="1800.5" y2="2932.0" stroke="#222" stroke-width="3.5"/>
<path d="M1800.5,2884.0 C1803.4,2888.2 1808.5,2892.0 1808.5,2896.9 C1808.5,2901.1 1804.7,2903.0 1800.5,2903.0 C1796.3,2903.0 1792.5,2901.1 1792.5,2896.9 C1792.5,2892.0 1797.6,2888.2 1800.5,2884.0 Z" fill="#000"/>
<line x1="1739.5" y1="2940.0" x2="1825.0" y2="2940.0" stroke="#000" stroke-width="8" stroke-linecap="round"/>
<line x1="2114.5" y1="2701.5" x2="2200.5" y2="2701.5" stroke="#000" stroke-width="8" stroke-linecap="round"/>
<line x1="2159.5" y1="2683.5" x2="2159.5" y2="2722.0" stroke="#222" stroke-width="3.5"/>
<path d="M2159.5,2731.5 C2162.4,2727.3 2167.5,2723.5 2167.5,2718.6 C2167.5,2714.4 2163.7,2712.5 2159.5,2712.5 C2155.3,2712.5 2151.5,2714.4 2151.5,2718.6 C2151.5,2723.5 2156.6,2727.3 2159.5,2731.5 Z" fill="#000"/>
<line x1="2112.0" y1="2794.4" x2="2200.6" y2="2794.4" stroke="#000" stroke-width="8" stroke-linecap="round"/>
<line x1="2112.0" y1="2818.4" x2="2200.6" y2="2818.4" stroke="#000" stroke-width="8" stroke-linecap="round"/>
<line x1="2114.5" y1="2914.0" x2="2200.5" y2="2914.0" stroke="#000" stroke-width="8" stroke-linecap="round"/>
<line x1="2144.0" y1="2896.0" x2="2144.0" y2="2934.5" stroke="#222" stroke-width="3.5"/>
<path d="M2144.0,2944.0 C2146.9,2939.8 2152.0,2936.0 2152.0,2931.1 C2152.0,2926.9 2148.2,2925.0 2144.0,2925.0 C2139.8,2925.0 2136.0,2926.9 2136.0,2931.1 C2136.0,2936.0 2141.1,2939.8 2144.0,2944.0 Z" fill="#000"/>
<line x1="2114.5" y1="2935.0" x2="2200.5" y2="2935.0" stroke="#000" stroke-width="8" stroke-linecap="round"/>
<line x1="2170.5" y1="2917.0" x2="2170.5" y2="2955.5" stroke="#222" stroke-width="3.5"/>
<path d="M2170.5,2965.0 C2173.4,2960.8 2178.5,2957.0 2178.5,2952.1 C2178.5,2947.9 2174.7,2946.0 2170.5,2946.0 C2166.3,2946.0 2162.5,2947.9 2162.5,2952.1 C2162.5,2957.0 2167.6,2960.8 2170.5,2965.0 Z" fill="#000"/>
<line x1="2114.5" y1="3003.5" x2="2200.5" y2="3003.5" stroke="#000" stroke-width="8" stroke-linecap="round"/>
<line x1="2159.5" y1="2985.5" x2="2159.5" y2="3024.0" stroke="#222" stroke-width="3.5"/>
<path d="M2159.5,3033.5 C2162.4,3029.3 2167.5,3025.5 2167.5,3020.6 C2167.5,3016.4 2163.7,3014.5 2159.5,3014.5 C2155.3,3014.5 2151.5,3016.4 2151.5,3020.6 C2151.5,3025.5 2156.6,3029.3 2159.5,3033.5 Z" fill="#000"/>
<line x1="946.4" y1="2732" x2="946.4" y2="2812" stroke="#222" stroke-width="3.5"/>
<path d="M946.4,2778.0 C949.5,2774.3 954.9,2770.9 954.9,2766.4 C954.9,2762.7 950.8,2761.0 946.4,2761.0 C942.0,2761.0 937.9,2762.7 937.9,2766.4 C937.9,2770.9 943.3,2774.3 946.4,2778.0 Z" fill="#000"/>
<path d="M946.4,2821.0 C949.5,2817.3 954.9,2813.9 954.9,2809.4 C954.9,2805.7 950.8,2804.0 946.4,2804.0 C942.0,2804.0 937.9,2805.7 937.9,2809.4 C937.9,2813.9 943.3,2817.3 946.4,2821.0 Z" fill="#000"/>
<line x1="982.3" y1="2750" x2="982.3" y2="2832" stroke="#222" stroke-width="3.5"/>
<path d="M982.3,2792.0 C985.4,2788.3 990.8,2784.9 990.8,2780.4 C990.8,2776.7 986.7,2775.0 982.3,2775.0 C977.9,2775.0 973.8,2776.7 973.8,2780.4 C973.8,2784.9 979.2,2788.3 982.3,2792.0 Z" fill="#000"/>
<path d="M982.3,2841.0 C985.4,2837.0 990.8,2833.4 990.8,2828.8 C990.8,2824.8 986.7,2823.0 982.3,2823.0 C977.9,2823.0 973.8,2824.8 973.8,2828.8 C973.8,2833.4 979.2,2837.0 982.3,2841.0 Z" fill="#000"/>
<rect x="2108" y="2759" width="96.6" height="20" rx="6" fill="#5c5c5c"/>
<line x1="2142" y1="2740.6" x2="2142" y2="2780" stroke="#222" stroke-width="3.5"/>
<path d="M2142.0,2788.0 C2145.1,2784.5 2150.5,2781.3 2150.5,2777.1 C2150.5,2773.6 2146.4,2772.0 2142.0,2772.0 C2137.6,2772.0 2133.5,2773.6 2133.5,2777.1 C2133.5,2781.3 2138.9,2784.5 2142.0,2788.0 Z" fill="#000"/>
<line x1="2174.3" y1="2756" x2="2174.3" y2="2826" stroke="#222" stroke-width="3.5"/>
<path d="M2174.3,2801.0 C2177.4,2797.5 2182.8,2794.3 2182.8,2790.1 C2182.8,2786.6 2178.7,2785.0 2174.3,2785.0 C2169.9,2785.0 2165.8,2786.6 2165.8,2790.1 C2165.8,2794.3 2171.2,2797.5 2174.3,2801.0 Z" fill="#000"/>
<path d="M2174.3,2837.0 C2177.4,2833.3 2182.8,2829.9 2182.8,2825.4 C2182.8,2821.7 2178.7,2820.0 2174.3,2820.0 C2169.9,2820.0 2165.8,2821.7 2165.8,2825.4 C2165.8,2829.9 2171.2,2833.3 2174.3,2837.0 Z" fill="#000"/>
<path d="M2142.0,2822.0 C2145.1,2818.5 2150.5,2815.3 2150.5,2811.1 C2150.5,2807.6 2146.4,2806.0 2142.0,2806.0 C2137.6,2806.0 2133.5,2807.6 2133.5,2811.1 C2133.5,2815.3 2138.9,2818.5 2142.0,2822.0 Z" fill="#000"/>
<line x1="589" y1="2887" x2="589" y2="2947" stroke="#222" stroke-width="3.5"/>
<path d="M589.0,2919.0 C591.9,2915.3 597.0,2911.9 597.0,2907.4 C597.0,2903.7 593.2,2902.0 589.0,2902.0 C584.8,2902.0 581.0,2903.7 581.0,2907.4 C581.0,2911.9 586.1,2915.3 589.0,2919.0 Z" fill="#000"/>
<line x1="1765.5" y1="2789.5" x2="1765.5" y2="2849.5" stroke="#222" stroke-width="3.5"/>
<path d="M1765.5,2821.5 C1768.4,2817.8 1773.5,2814.4 1773.5,2809.9 C1773.5,2806.2 1769.7,2804.5 1765.5,2804.5 C1761.3,2804.5 1757.5,2806.2 1757.5,2809.9 C1757.5,2814.4 1762.6,2817.8 1765.5,2821.5 Z" fill="#000"/>
<line x1="1767" y1="2896" x2="1767" y2="2956" stroke="#222" stroke-width="3.5"/>
<path d="M1767.0,2928.0 C1769.9,2924.3 1775.0,2920.9 1775.0,2916.4 C1775.0,2912.7 1771.2,2911.0 1767.0,2911.0 C1762.8,2911.0 1759.0,2912.7 1759.0,2916.4 C1759.0,2920.9 1764.1,2924.3 1767.0,2928.0 Z" fill="#000"/>
<defs>
<radialGradient id="gM" cx="50%" cy="50%" r="50%" fx="38%" fy="32%">
<stop offset="0" stop-color="#eeb4ee"/><stop offset=".3" stop-color="#cf68d2"/><stop offset=".68" stop-color="#b034b8"/><stop offset=".88" stop-color="#8c1a94"/><stop offset="1" stop-color="#5e0866"/></radialGradient>
<radialGradient id="gP" cx="50%" cy="50%" r="50%" fx="50%" fy="45%">
<stop offset="0" stop-color="#cc6c96"/><stop offset=".4" stop-color="#b8469e"/><stop offset=".75" stop-color="#a324a8"/><stop offset="1" stop-color="#7a0e80"/></radialGradient>
<radialGradient id="gY" cx="50%" cy="50%" r="50%" fx="40%" fy="35%">
<stop offset="0" stop-color="#fffff0"/><stop offset=".3" stop-color="#fafa30"/><stop offset=".8" stop-color="#eeea00"/><stop offset="1" stop-color="#c2b800"/></radialGradient>
<radialGradient id="gC" cx="50%" cy="50%" r="50%" fx="40%" fy="35%">
<stop offset="0" stop-color="#c8ffff"/><stop offset=".3" stop-color="#40f6ff"/><stop offset=".78" stop-color="#12e2f2"/><stop offset="1" stop-color="#00aed2"/></radialGradient>
<radialGradient id="gG" cx="50%" cy="50%" r="50%" fx="40%" fy="35%">
<stop offset="0" stop-color="#fff27a"/><stop offset=".3" stop-color="#ffd224"/><stop offset=".78" stop-color="#f8b800"/><stop offset="1" stop-color="#d48c00"/></radialGradient>
<radialGradient id="gW" cx="50%" cy="50%" r="50%" fx="40%" fy="35%">
<stop offset="0" stop-color="#ffffff"/><stop offset=".6" stop-color="#e8e8e8"/><stop offset="1" stop-color="#9a9a9a"/></radialGradient>
</defs>
<path d="M738.7,3989.4L852.2,3973.6M738.7,3989.4L641.8,3967.1M738.7,3989.4L783.3,3971.8M852.2,3973.6L783.3,3971.8M852.2,3973.6L943.3,3921.0M641.8,3967.1L662.2,3947.4M783.3,3971.8L867.9,3928.4M557.1,3912.1L547.4,3893.7M943.3,3921.0L1006.5,3848.1M943.3,3921.0L953.8,3865.9M662.2,3947.4L733.4,3915.5M662.2,3947.4L589.5,3872.2M867.9,3928.4L953.8,3865.9M867.9,3928.4L827.0,3867.7M547.4,3893.7L589.5,3872.2M547.4,3893.7L491.4,3800.8M1006.5,3848.1L1016.1,3789.3M733.4,3915.5L827.0,3867.7M733.4,3915.5L669.0,3840.1M491.8,3816.8L491.4,3800.8M953.8,3865.9L1016.1,3789.3M953.8,3865.9L917.5,3803.8M589.5,3872.2L669.0,3840.1M589.5,3872.2L535.9,3780.7M827.0,3867.7L917.5,3803.8M827.0,3867.7L765.6,3792.8M491.4,3800.8L475.1,3699.6M1016.1,3789.3L982.5,3727.3M669.0,3840.1L614.4,3749.4M917.5,3803.8L982.5,3727.3M917.5,3803.8L855.9,3729.9M535.9,3780.7L614.4,3749.4M535.9,3780.7L516.9,3679.2M1038.6,3705.6L1006.1,3644.6M765.6,3792.8L855.9,3729.9M765.6,3792.8L707.2,3702.4M475.1,3699.6L516.9,3679.2M475.1,3699.6L504.1,3597.9M982.5,3727.3L1006.1,3644.6M982.5,3727.3L916.7,3654.5M614.4,3749.4L707.2,3702.4M614.4,3749.4L592.0,3646.0M855.9,3729.9L916.7,3654.5M855.9,3729.9L788.9,3638.4M516.9,3679.2L592.0,3646.0M1006.1,3644.6L980.9,3564.4M707.2,3702.4L788.9,3638.4M504.1,3597.9L550.7,3573.7M916.7,3654.5L927.7,3573.6M592.0,3646.0L679.5,3593.4M980.9,3564.4L909.1,3497.0M788.9,3638.4L679.5,3593.4M788.9,3638.4L827.5,3559.4M550.7,3573.7L591.4,3505.6M550.7,3573.7L641.8,3529.8M927.7,3573.6L827.5,3559.4M927.7,3573.6L864.7,3498.1M679.5,3593.4L641.8,3529.8M909.1,3497.0L864.7,3498.1M591.4,3505.6L685.2,3463.5M827.5,3559.4L745.5,3509.7M780.6,3457.6L780.4,3464.7M641.8,3529.8L745.5,3509.7M864.7,3498.1L780.4,3464.7M685.2,3463.5L780.4,3464.7M745.5,3509.7L780.4,3464.7" stroke="#b8b8b8" stroke-width="4" fill="none" stroke-linecap="round"/>
<circle cx="707.2" cy="3702.4" r="7.9" fill="url(#gW)" stroke="#3a3a3a" stroke-width="2.5"/>
<circle cx="765.6" cy="3792.8" r="7.9" fill="url(#gW)" stroke="#3a3a3a" stroke-width="2.5"/>
<circle cx="788.9" cy="3638.4" r="7.9" fill="url(#gW)" stroke="#3a3a3a" stroke-width="2.5"/>
<circle cx="855.9" cy="3729.9" r="7.9" fill="url(#gW)" stroke="#3a3a3a" stroke-width="2.5"/>
<circle cx="614.4" cy="3749.4" r="7.9" fill="url(#gW)" stroke="#3a3a3a" stroke-width="2.5"/>
<circle cx="669.0" cy="3840.1" r="7.9" fill="url(#gW)" stroke="#3a3a3a" stroke-width="2.5"/>
<circle cx="679.5" cy="3593.4" r="7.9" fill="url(#gW)" stroke="#3a3a3a" stroke-width="2.5"/>
<circle cx="827.0" cy="3867.7" r="7.9" fill="url(#gW)" stroke="#3a3a3a" stroke-width="2.5"/>
<circle cx="916.7" cy="3654.5" r="7.9" fill="url(#gW)" stroke="#3a3a3a" stroke-width="2.5"/>
<circle cx="592.0" cy="3646.0" r="7.9" fill="url(#gW)" stroke="#3a3a3a" stroke-width="2.5"/>
<circle cx="917.5" cy="3803.8" r="7.9" fill="url(#gW)" stroke="#3a3a3a" stroke-width="2.5"/>
<circle cx="827.5" cy="3559.4" r="7.9" fill="url(#gW)" stroke="#3a3a3a" stroke-width="2.5"/>
<circle cx="733.4" cy="3915.5" r="7.9" fill="url(#gW)" stroke="#3a3a3a" stroke-width="2.5"/>
<circle cx="745.5" cy="3509.7" r="7.9" fill="url(#gW)" stroke="#3a3a3a" stroke-width="2.5"/>
<circle cx="982.5" cy="3727.3" r="7.9" fill="url(#gW)" stroke="#3a3a3a" stroke-width="2.5"/>
<circle cx="535.9" cy="3780.7" r="7.9" fill="url(#gW)" stroke="#3a3a3a" stroke-width="2.5"/>
<circle cx="589.5" cy="3872.2" r="7.9" fill="url(#gW)" stroke="#3a3a3a" stroke-width="2.5"/>
<circle cx="641.8" cy="3529.8" r="7.9" fill="url(#gW)" stroke="#3a3a3a" stroke-width="2.5"/>
<circle cx="927.7" cy="3573.6" r="7.9" fill="url(#gW)" stroke="#3a3a3a" stroke-width="2.5"/>
<circle cx="516.9" cy="3679.2" r="7.9" fill="url(#gW)" stroke="#3a3a3a" stroke-width="2.5"/>
<circle cx="867.9" cy="3928.4" r="7.9" fill="url(#gW)" stroke="#3a3a3a" stroke-width="2.5"/>
<circle cx="953.8" cy="3865.9" r="7.9" fill="url(#gW)" stroke="#3a3a3a" stroke-width="2.5"/>
<circle cx="662.2" cy="3947.4" r="7.9" fill="url(#gW)" stroke="#3a3a3a" stroke-width="2.5"/>
<circle cx="550.7" cy="3573.7" r="7.9" fill="url(#gW)" stroke="#3a3a3a" stroke-width="2.5"/>
<circle cx="864.7" cy="3498.1" r="7.9" fill="url(#gW)" stroke="#3a3a3a" stroke-width="2.5"/>
<circle cx="1006.1" cy="3644.6" r="7.9" fill="url(#gW)" stroke="#3a3a3a" stroke-width="2.5"/>
<circle cx="783.3" cy="3971.8" r="7.9" fill="url(#gW)" stroke="#3a3a3a" stroke-width="2.5"/>
<circle cx="1016.1" cy="3789.3" r="7.9" fill="url(#gW)" stroke="#3a3a3a" stroke-width="2.5"/>
<circle cx="780.4" cy="3464.7" r="7.9" fill="url(#gW)" stroke="#3a3a3a" stroke-width="2.5"/>
<circle cx="547.4" cy="3893.7" r="7.9" fill="url(#gW)" stroke="#3a3a3a" stroke-width="2.5"/>
<circle cx="491.4" cy="3800.8" r="7.9" fill="url(#gW)" stroke="#3a3a3a" stroke-width="2.5"/>
<circle cx="475.1" cy="3699.6" r="7.9" fill="url(#gW)" stroke="#3a3a3a" stroke-width="2.5"/>
<circle cx="980.9" cy="3564.4" r="7.9" fill="url(#gW)" stroke="#3a3a3a" stroke-width="2.5"/>
<circle cx="591.4" cy="3505.6" r="7.9" fill="url(#gW)" stroke="#3a3a3a" stroke-width="2.5"/>
<circle cx="943.3" cy="3921.0" r="7.9" fill="url(#gW)" stroke="#3a3a3a" stroke-width="2.5"/>
<circle cx="504.1" cy="3597.9" r="7.9" fill="url(#gW)" stroke="#3a3a3a" stroke-width="2.5"/>
<circle cx="685.2" cy="3463.5" r="7.9" fill="url(#gW)" stroke="#3a3a3a" stroke-width="2.5"/>
<circle cx="1038.6" cy="3705.6" r="7.9" fill="url(#gW)" stroke="#3a3a3a" stroke-width="2.5"/>
<circle cx="641.8" cy="3967.1" r="7.9" fill="url(#gW)" stroke="#3a3a3a" stroke-width="2.5"/>
<circle cx="909.1" cy="3497.0" r="7.9" fill="url(#gW)" stroke="#3a3a3a" stroke-width="2.5"/>
<circle cx="852.2" cy="3973.6" r="7.9" fill="url(#gW)" stroke="#3a3a3a" stroke-width="2.5"/>
<path d="M804.0,3971.6L723.2,3938.6M804.0,3971.6L738.7,3989.4M804.0,3971.6L856.9,3923.9M804.0,3971.6L852.2,3973.6M723.2,3938.6L630.7,3938.9M723.2,3938.6L768.5,3875.7M856.9,3923.9L935.6,3912.2M856.9,3923.9L875.6,3839.9M630.7,3938.9L619.7,3872.5M630.7,3938.9L557.1,3912.1M768.5,3875.7L875.6,3839.9M768.5,3875.7L694.7,3808.4M641.8,3967.1L557.1,3912.1M935.6,3912.2L943.3,3921.0M935.6,3912.2L972.4,3833.6M619.7,3872.5L694.7,3808.4M619.7,3872.5L537.8,3837.5M875.6,3839.9L823.3,3765.6M694.7,3808.4L603.2,3762.3M694.7,3808.4L735.0,3705.7M972.4,3833.6L952.3,3752.8M972.4,3833.6L1027.7,3765.8M537.8,3837.5L491.8,3816.8M537.8,3837.5L523.9,3733.1M823.3,3765.6L735.0,3705.7M823.3,3765.6L886.7,3679.4M1006.5,3848.1L1027.7,3765.8M603.2,3762.3L523.9,3733.1M603.2,3762.3L637.3,3662.3M952.3,3752.8L886.7,3679.4M952.3,3752.8L1002.3,3683.3M491.8,3816.8L477.5,3714.8M735.0,3705.7L637.3,3662.3M735.0,3705.7L793.3,3619.3M1027.7,3765.8L1002.3,3683.3M1027.7,3765.8L1038.6,3705.6M523.9,3733.1L477.5,3714.8M523.9,3733.1L554.5,3633.7M886.7,3679.4L793.3,3619.3M886.7,3679.4L936.3,3608.8M637.3,3662.3L694.2,3575.1M1002.3,3683.3L1015.8,3622.9M477.5,3714.8L506.1,3614.8M793.3,3619.3L694.2,3575.1M793.3,3619.3L845.2,3548.1M1038.6,3705.6L1015.8,3622.9M554.5,3633.7L506.1,3614.8M554.5,3633.7L613.3,3545.4M936.3,3608.8L845.2,3548.1M936.3,3608.8L952.7,3549.3M694.2,3575.1L613.3,3545.4M694.2,3575.1L751.9,3504.2M1015.8,3622.9L952.7,3549.3M1015.8,3622.9L980.9,3564.4M506.1,3614.8L504.1,3597.9M506.1,3614.8L572.5,3525.1M845.2,3548.1L751.9,3504.2M845.2,3548.1L865.5,3492.0M613.3,3545.4L572.5,3525.1M952.7,3549.3L865.5,3492.0M751.9,3504.2L684.5,3476.6M572.5,3525.1L591.4,3505.6M865.5,3492.0L909.1,3497.0M865.5,3492.0L780.6,3457.6M684.5,3476.6L780.6,3457.6M684.5,3476.6L685.2,3463.5M780.6,3457.6L685.2,3463.5" stroke="#3c3c3c" stroke-width="7" fill="none" stroke-linecap="round"/>
<path d="M804.0,3971.6L723.2,3938.6M804.0,3971.6L738.7,3989.4M804.0,3971.6L856.9,3923.9M804.0,3971.6L852.2,3973.6M723.2,3938.6L630.7,3938.9M723.2,3938.6L768.5,3875.7M856.9,3923.9L935.6,3912.2M856.9,3923.9L875.6,3839.9M630.7,3938.9L619.7,3872.5M630.7,3938.9L557.1,3912.1M768.5,3875.7L875.6,3839.9M768.5,3875.7L694.7,3808.4M641.8,3967.1L557.1,3912.1M935.6,3912.2L943.3,3921.0M935.6,3912.2L972.4,3833.6M619.7,3872.5L694.7,3808.4M619.7,3872.5L537.8,3837.5M875.6,3839.9L823.3,3765.6M694.7,3808.4L603.2,3762.3M694.7,3808.4L735.0,3705.7M972.4,3833.6L952.3,3752.8M972.4,3833.6L1027.7,3765.8M537.8,3837.5L491.8,3816.8M537.8,3837.5L523.9,3733.1M823.3,3765.6L735.0,3705.7M823.3,3765.6L886.7,3679.4M1006.5,3848.1L1027.7,3765.8M603.2,3762.3L523.9,3733.1M603.2,3762.3L637.3,3662.3M952.3,3752.8L886.7,3679.4M952.3,3752.8L1002.3,3683.3M491.8,3816.8L477.5,3714.8M735.0,3705.7L637.3,3662.3M735.0,3705.7L793.3,3619.3M1027.7,3765.8L1002.3,3683.3M1027.7,3765.8L1038.6,3705.6M523.9,3733.1L477.5,3714.8M523.9,3733.1L554.5,3633.7M886.7,3679.4L793.3,3619.3M886.7,3679.4L936.3,3608.8M637.3,3662.3L694.2,3575.1M1002.3,3683.3L1015.8,3622.9M477.5,3714.8L506.1,3614.8M793.3,3619.3L694.2,3575.1M793.3,3619.3L845.2,3548.1M1038.6,3705.6L1015.8,3622.9M554.5,3633.7L506.1,3614.8M554.5,3633.7L613.3,3545.4M936.3,3608.8L845.2,3548.1M936.3,3608.8L952.7,3549.3M694.2,3575.1L613.3,3545.4M694.2,3575.1L751.9,3504.2M1015.8,3622.9L952.7,3549.3M1015.8,3622.9L980.9,3564.4M506.1,3614.8L504.1,3597.9M506.1,3614.8L572.5,3525.1M845.2,3548.1L751.9,3504.2M845.2,3548.1L865.5,3492.0M613.3,3545.4L572.5,3525.1M952.7,3549.3L865.5,3492.0M751.9,3504.2L684.5,3476.6M572.5,3525.1L591.4,3505.6M865.5,3492.0L909.1,3497.0M865.5,3492.0L780.6,3457.6M684.5,3476.6L780.6,3457.6M684.5,3476.6L685.2,3463.5M780.6,3457.6L685.2,3463.5" stroke="#dcdcdc" stroke-width="2.5" fill="none" stroke-linecap="round"/>
<ellipse cx="672.5" cy="3435.0" rx="25.0" ry="22.5" fill="url(#gM)"/>
<ellipse cx="752.5" cy="3442.5" rx="22.5" ry="20.0" fill="url(#gM)"/>
<ellipse cx="945.0" cy="3487.5" rx="37.5" ry="35.0" fill="url(#gM)"/>
<ellipse cx="535.0" cy="3542.5" rx="15.0" ry="13.8" fill="url(#gM)"/>
<ellipse cx="630.0" cy="3557.5" rx="27.5" ry="25.0" fill="url(#gM)"/>
<ellipse cx="680.0" cy="3560.0" rx="17.5" ry="17.5" fill="url(#gM)"/>
<ellipse cx="570.0" cy="3575.0" rx="12.5" ry="10.0" fill="url(#gM)"/>
<ellipse cx="897.5" cy="3545.0" rx="30.0" ry="25.0" fill="url(#gM)"/>
<ellipse cx="455.0" cy="3645.0" rx="27.5" ry="30.0" fill="url(#gM)"/>
<ellipse cx="515.0" cy="3665.0" rx="17.5" ry="27.5" fill="url(#gM)"/>
<ellipse cx="690.0" cy="3580.0" rx="30.0" ry="27.5" fill="url(#gM)"/>
<ellipse cx="715.0" cy="3850.0" rx="37.5" ry="30.0" fill="url(#gM)"/>
<ellipse cx="880.0" cy="3810.0" rx="25.0" ry="30.0" fill="url(#gM)"/>
<ellipse cx="570.0" cy="3835.0" rx="30.0" ry="57.5" fill="url(#gM)"/>
<ellipse cx="700.0" cy="3835.0" rx="55.0" ry="47.5" fill="url(#gM)"/>
<ellipse cx="950.0" cy="3840.0" rx="30.0" ry="50.0" fill="url(#gM)"/>
<ellipse cx="620.0" cy="3600.0" rx="27.5" ry="22.5" fill="url(#gM)"/>
<ellipse cx="780.0" cy="3800.0" rx="75.0" ry="62.5" fill="url(#gP)"/>
<ellipse cx="650.0" cy="3720.0" rx="85.0" ry="110.0" fill="url(#gP)"/>
<ellipse cx="815.0" cy="3690.0" rx="105.0" ry="110.0" fill="url(#gP)"/>
<ellipse cx="900.0" cy="3660.0" rx="37.5" ry="50.0" fill="url(#gM)"/>
<ellipse cx="750.0" cy="3610.0" rx="32.5" ry="30.0" fill="url(#gM)"/>
<ellipse cx="965.0" cy="3615.0" rx="55.0" ry="62.5" fill="url(#gM)"/>
<ellipse cx="1067.5" cy="3640.0" rx="35.0" ry="40.0" fill="url(#gM)"/>
<ellipse cx="1015.0" cy="3685.0" rx="35.0" ry="32.5" fill="url(#gM)"/>
<ellipse cx="545.0" cy="3750.0" rx="22.5" ry="22.5" fill="url(#gM)"/>
<ellipse cx="845.0" cy="3795.0" rx="50.0" ry="50.0" fill="url(#gM)"/>
<ellipse cx="1025.0" cy="3825.0" rx="50.0" ry="60.0" fill="url(#gM)"/>
<ellipse cx="462.5" cy="3827.5" rx="52.5" ry="47.5" fill="url(#gM)"/>
<ellipse cx="522.5" cy="3922.5" rx="42.5" ry="40.0" fill="url(#gM)"/>
<ellipse cx="577.5" cy="3970.0" rx="32.5" ry="30.0" fill="url(#gM)"/>
<ellipse cx="610.0" cy="3940.0" rx="15.0" ry="17.5" fill="url(#gM)"/>
<ellipse cx="750.0" cy="3937.5" rx="12.5" ry="17.5" fill="url(#gM)"/>
<ellipse cx="890.0" cy="3887.5" rx="10.0" ry="15.0" fill="url(#gM)"/>
<ellipse cx="925.0" cy="3900.0" rx="15.0" ry="10.0" fill="url(#gM)"/>
<ellipse cx="852.5" cy="3560.0" rx="32.5" ry="30.0" fill="url(#gY)"/>
<ellipse cx="745.0" cy="3725.0" rx="35.0" ry="35.0" fill="url(#gY)"/>
<ellipse cx="950.0" cy="3745.0" rx="35.0" ry="37.5" fill="url(#gY)"/>
<ellipse cx="892.5" cy="3740.0" rx="17.5" ry="25.0" fill="url(#gY)"/>
<ellipse cx="1060.0" cy="3750.0" rx="27.5" ry="25.0" fill="url(#gY)"/>
<ellipse cx="1010.0" cy="3570.0" rx="27.5" ry="27.5" fill="url(#gY)"/>
<ellipse cx="800.0" cy="3870.0" rx="27.5" ry="25.0" fill="url(#gY)"/>
<ellipse cx="810.0" cy="3915.0" rx="30.0" ry="27.5" fill="url(#gY)"/>
<ellipse cx="630.0" cy="3805.0" rx="20.0" ry="22.5" fill="url(#gY)"/>
<ellipse cx="680.0" cy="3900.0" rx="12.5" ry="20.0" fill="url(#gY)"/>
<ellipse cx="480.0" cy="3615.0" rx="15.0" ry="15.0" fill="url(#gY)"/>
<ellipse cx="587.5" cy="3482.5" rx="10.0" ry="10.0" fill="url(#gY)"/>
<ellipse cx="595.0" cy="3590.0" rx="12.5" ry="12.5" fill="url(#gY)"/>
<ellipse cx="465.0" cy="3770.0" rx="10.0" ry="10.0" fill="url(#gY)"/>
<ellipse cx="665.0" cy="4002.5" rx="10.0" ry="10.0" fill="url(#gY)"/>
<ellipse cx="800.0" cy="4007.5" rx="12.5" ry="10.0" fill="url(#gY)"/>
<ellipse cx="975.0" cy="3545.0" rx="10.0" ry="10.0" fill="url(#gY)"/>
<ellipse cx="550.0" cy="3660.0" rx="10.0" ry="15.0" fill="url(#gY)"/>
<ellipse cx="715.0" cy="3495.0" rx="10.0" ry="12.5" fill="url(#gY)"/>
<path d="M804.0,3971.6L723.2,3938.6M804.0,3971.6L738.7,3989.4M804.0,3971.6L856.9,3923.9M804.0,3971.6L852.2,3973.6M723.2,3938.6L630.7,3938.9M723.2,3938.6L768.5,3875.7M856.9,3923.9L935.6,3912.2M856.9,3923.9L875.6,3839.9M630.7,3938.9L619.7,3872.5M630.7,3938.9L557.1,3912.1M768.5,3875.7L875.6,3839.9M768.5,3875.7L694.7,3808.4M641.8,3967.1L557.1,3912.1M935.6,3912.2L943.3,3921.0M935.6,3912.2L972.4,3833.6M619.7,3872.5L694.7,3808.4M619.7,3872.5L537.8,3837.5M875.6,3839.9L823.3,3765.6M694.7,3808.4L603.2,3762.3M694.7,3808.4L735.0,3705.7M972.4,3833.6L952.3,3752.8M972.4,3833.6L1027.7,3765.8M537.8,3837.5L491.8,3816.8M537.8,3837.5L523.9,3733.1M823.3,3765.6L735.0,3705.7M823.3,3765.6L886.7,3679.4M1006.5,3848.1L1027.7,3765.8M603.2,3762.3L523.9,3733.1M603.2,3762.3L637.3,3662.3M952.3,3752.8L886.7,3679.4M952.3,3752.8L1002.3,3683.3M491.8,3816.8L477.5,3714.8M735.0,3705.7L637.3,3662.3M735.0,3705.7L793.3,3619.3M1027.7,3765.8L1002.3,3683.3M1027.7,3765.8L1038.6,3705.6M523.9,3733.1L477.5,3714.8M523.9,3733.1L554.5,3633.7M886.7,3679.4L793.3,3619.3M886.7,3679.4L936.3,3608.8M637.3,3662.3L694.2,3575.1M1002.3,3683.3L1015.8,3622.9M477.5,3714.8L506.1,3614.8M793.3,3619.3L694.2,3575.1M793.3,3619.3L845.2,3548.1M1038.6,3705.6L1015.8,3622.9M554.5,3633.7L506.1,3614.8M554.5,3633.7L613.3,3545.4M936.3,3608.8L845.2,3548.1M936.3,3608.8L952.7,3549.3M694.2,3575.1L613.3,3545.4M694.2,3575.1L751.9,3504.2M1015.8,3622.9L952.7,3549.3M1015.8,3622.9L980.9,3564.4M506.1,3614.8L504.1,3597.9M506.1,3614.8L572.5,3525.1M845.2,3548.1L751.9,3504.2M845.2,3548.1L865.5,3492.0M613.3,3545.4L572.5,3525.1M952.7,3549.3L865.5,3492.0M751.9,3504.2L684.5,3476.6M572.5,3525.1L591.4,3505.6M865.5,3492.0L909.1,3497.0M865.5,3492.0L780.6,3457.6M684.5,3476.6L780.6,3457.6M684.5,3476.6L685.2,3463.5M780.6,3457.6L685.2,3463.5" stroke="#d2e4d2" stroke-width="2.5" fill="none" stroke-linecap="round"/>
<circle cx="1006.5" cy="3848.1" r="8.4" fill="url(#gW)" stroke="#3a3a3a" stroke-width="2.5"/>
<circle cx="738.7" cy="3989.4" r="8.5" fill="url(#gW)" stroke="#3a3a3a" stroke-width="2.5"/>
<circle cx="557.1" cy="3912.1" r="8.7" fill="url(#gW)" stroke="#3a3a3a" stroke-width="2.5"/>
<circle cx="780.6" cy="3457.6" r="8.7" fill="url(#gW)" stroke="#3a3a3a" stroke-width="2.5"/>
<circle cx="491.8" cy="3816.8" r="8.7" fill="url(#gW)" stroke="#3a3a3a" stroke-width="2.5"/>
<circle cx="1015.8" cy="3622.9" r="8.7" fill="url(#gW)" stroke="#3a3a3a" stroke-width="2.5"/>
<circle cx="572.5" cy="3525.1" r="8.9" fill="url(#gW)" stroke="#3a3a3a" stroke-width="2.5"/>
<circle cx="477.5" cy="3714.8" r="8.9" fill="url(#gW)" stroke="#3a3a3a" stroke-width="2.5"/>
<circle cx="1027.7" cy="3765.8" r="8.9" fill="url(#gW)" stroke="#3a3a3a" stroke-width="2.5"/>
<circle cx="506.1" cy="3614.8" r="9.0" fill="url(#gW)" stroke="#3a3a3a" stroke-width="2.5"/>
<circle cx="935.6" cy="3912.2" r="9.0" fill="url(#gW)" stroke="#3a3a3a" stroke-width="2.5"/>
<circle cx="684.5" cy="3476.6" r="9.1" fill="url(#gW)" stroke="#3a3a3a" stroke-width="2.5"/>
<circle cx="804.0" cy="3971.6" r="9.1" fill="url(#gW)" stroke="#3a3a3a" stroke-width="2.5"/>
<circle cx="952.7" cy="3549.3" r="9.1" fill="url(#gW)" stroke="#3a3a3a" stroke-width="2.5"/>
<circle cx="865.5" cy="3492.0" r="9.1" fill="url(#gW)" stroke="#3a3a3a" stroke-width="2.5"/>
<circle cx="630.7" cy="3938.9" r="9.2" fill="url(#gW)" stroke="#3a3a3a" stroke-width="2.5"/>
<circle cx="1002.3" cy="3683.3" r="9.4" fill="url(#gW)" stroke="#3a3a3a" stroke-width="2.5"/>
<circle cx="537.8" cy="3837.5" r="9.4" fill="url(#gW)" stroke="#3a3a3a" stroke-width="2.5"/>
<circle cx="972.4" cy="3833.6" r="9.4" fill="url(#gW)" stroke="#3a3a3a" stroke-width="2.5"/>
<circle cx="856.9" cy="3923.9" r="9.6" fill="url(#gW)" stroke="#3a3a3a" stroke-width="2.5"/>
<circle cx="613.3" cy="3545.4" r="9.6" fill="url(#gW)" stroke="#3a3a3a" stroke-width="2.5"/>
<circle cx="723.2" cy="3938.6" r="9.6" fill="url(#gW)" stroke="#3a3a3a" stroke-width="2.5"/>
<circle cx="751.9" cy="3504.2" r="9.6" fill="url(#gW)" stroke="#3a3a3a" stroke-width="2.5"/>
<circle cx="523.9" cy="3733.1" r="9.6" fill="url(#gW)" stroke="#3a3a3a" stroke-width="2.5"/>
<circle cx="554.5" cy="3633.7" r="9.7" fill="url(#gW)" stroke="#3a3a3a" stroke-width="2.5"/>
<circle cx="936.3" cy="3608.8" r="9.8" fill="url(#gW)" stroke="#3a3a3a" stroke-width="2.5"/>
<circle cx="619.7" cy="3872.5" r="9.8" fill="url(#gW)" stroke="#3a3a3a" stroke-width="2.5"/>
<circle cx="845.2" cy="3548.1" r="9.9" fill="url(#gW)" stroke="#3a3a3a" stroke-width="2.5"/>
<circle cx="952.3" cy="3752.8" r="9.9" fill="url(#gW)" stroke="#3a3a3a" stroke-width="2.5"/>
<circle cx="875.6" cy="3839.9" r="10.1" fill="url(#gW)" stroke="#3a3a3a" stroke-width="2.5"/>
<circle cx="694.2" cy="3575.1" r="10.1" fill="url(#gW)" stroke="#3a3a3a" stroke-width="2.5"/>
<circle cx="768.5" cy="3875.7" r="10.1" fill="url(#gW)" stroke="#3a3a3a" stroke-width="2.5"/>
<circle cx="603.2" cy="3762.3" r="10.1" fill="url(#gW)" stroke="#3a3a3a" stroke-width="2.5"/>
<circle cx="886.7" cy="3679.4" r="10.2" fill="url(#gW)" stroke="#3a3a3a" stroke-width="2.5"/>
<circle cx="637.3" cy="3662.3" r="10.3" fill="url(#gW)" stroke="#3a3a3a" stroke-width="2.5"/>
<circle cx="793.3" cy="3619.3" r="10.3" fill="url(#gW)" stroke="#3a3a3a" stroke-width="2.5"/>
<circle cx="694.7" cy="3808.4" r="10.3" fill="url(#gW)" stroke="#3a3a3a" stroke-width="2.5"/>
<circle cx="823.3" cy="3765.6" r="10.4" fill="url(#gW)" stroke="#3a3a3a" stroke-width="2.5"/>
<circle cx="735.0" cy="3705.7" r="10.5" fill="url(#gW)" stroke="#3a3a3a" stroke-width="2.5"/>
<circle cx="710.0" cy="3782.5" r="17" fill="#2e7d3a"/>
<path d="M1760.9,3925.1L1828.0,3954.6M1760.9,3925.1L1711.2,3856.1M1959.6,3989.1L2064.4,3963.4M1959.6,3989.1L1928.5,3960.9M1679.5,3816.8L1711.2,3856.1M1679.5,3816.8L1659.2,3719.0M1828.0,3954.6L1928.5,3960.9M1828.0,3954.6L1786.3,3888.2M2064.4,3963.4L2157.8,3900.9M2064.4,3963.4L2038.6,3934.2M1711.2,3856.1L1786.3,3888.2M1711.2,3856.1L1692.1,3762.0M1928.5,3960.9L2038.6,3934.2M1928.5,3960.9L1889.2,3896.8M1659.2,3719.0L1682.6,3619.5M2157.8,3900.9L2134.6,3872.8M1786.3,3888.2L1765.6,3795.4M2038.6,3934.2L2134.6,3872.8M2038.6,3934.2L1998.4,3871.8M1692.1,3762.0L1765.6,3795.4M1692.1,3762.0L1713.2,3660.8M2219.5,3809.3L2237.7,3702.7M2219.5,3809.3L2196.4,3783.6M1889.2,3896.8L1998.4,3871.8M1889.2,3896.8L1864.8,3802.9M1682.6,3619.5L1713.2,3660.8M1682.6,3619.5L1749.0,3536.0M2134.6,3872.8L2196.4,3783.6M2134.6,3872.8L2089.5,3811.1M1765.6,3795.4L1864.8,3802.9M1765.6,3795.4L1785.1,3689.1M2237.7,3702.7L2211.1,3599.3M2237.7,3702.7L2210.5,3681.2M1762.3,3504.1L1749.0,3536.0M1762.3,3504.1L1854.4,3458.5M1998.4,3871.8L2089.5,3811.1M1998.4,3871.8L1966.6,3772.6M1713.2,3660.8L1785.1,3689.1M2196.4,3783.6L2210.5,3681.2M1864.8,3802.9L1966.6,3772.6M2211.1,3599.3L2149.2,3519.0M1749.0,3536.0L1787.1,3571.5M2089.5,3811.1L2138.1,3720.9M2048.2,3459.4L1981.9,3445.4M1785.1,3689.1L1883.6,3683.7M2210.5,3681.2L2170.9,3586.7M1854.4,3458.5L1862.8,3492.9M1966.6,3772.6L1883.6,3683.7M1966.6,3772.6L2039.8,3696.4M2149.2,3519.0L2170.9,3586.7M2149.2,3519.0L2071.6,3485.1M1787.1,3571.5L1862.8,3492.9M1787.1,3571.5L1882.2,3584.7M2138.1,3720.9L2039.8,3696.4M2138.1,3720.9L2113.1,3613.5M1981.9,3445.4L2071.6,3485.1M1981.9,3445.4L1968.2,3486.0M1883.6,3683.7L1882.2,3584.7M2170.9,3586.7L2113.1,3613.5M1862.8,3492.9L1968.2,3486.0M2039.8,3696.4L1986.0,3608.5M2071.6,3485.1L1968.2,3486.0M2071.6,3485.1L2050.6,3540.4M1882.2,3584.7L1986.0,3608.5M2113.1,3613.5L2050.6,3540.4M1968.2,3486.0L2050.6,3540.4M1986.0,3608.5L2050.6,3540.4" stroke="#b8b8b8" stroke-width="4" fill="none" stroke-linecap="round"/>
<circle cx="1966.6" cy="3772.6" r="7.9" fill="url(#gW)" stroke="#3a3a3a" stroke-width="2.5"/>
<circle cx="1883.6" cy="3683.7" r="7.9" fill="url(#gW)" stroke="#3a3a3a" stroke-width="2.5"/>
<circle cx="2039.8" cy="3696.4" r="7.9" fill="url(#gW)" stroke="#3a3a3a" stroke-width="2.5"/>
<circle cx="1986.0" cy="3608.5" r="7.9" fill="url(#gW)" stroke="#3a3a3a" stroke-width="2.5"/>
<circle cx="1864.8" cy="3802.9" r="7.9" fill="url(#gW)" stroke="#3a3a3a" stroke-width="2.5"/>
<circle cx="1882.2" cy="3584.7" r="7.9" fill="url(#gW)" stroke="#3a3a3a" stroke-width="2.5"/>
<circle cx="1785.1" cy="3689.1" r="7.9" fill="url(#gW)" stroke="#3a3a3a" stroke-width="2.5"/>
<circle cx="1998.4" cy="3871.8" r="7.9" fill="url(#gW)" stroke="#3a3a3a" stroke-width="2.5"/>
<circle cx="2089.5" cy="3811.1" r="7.9" fill="url(#gW)" stroke="#3a3a3a" stroke-width="2.5"/>
<circle cx="2138.1" cy="3720.9" r="7.9" fill="url(#gW)" stroke="#3a3a3a" stroke-width="2.5"/>
<circle cx="2113.1" cy="3613.5" r="7.9" fill="url(#gW)" stroke="#3a3a3a" stroke-width="2.5"/>
<circle cx="1889.2" cy="3896.8" r="7.9" fill="url(#gW)" stroke="#3a3a3a" stroke-width="2.5"/>
<circle cx="1765.6" cy="3795.4" r="7.9" fill="url(#gW)" stroke="#3a3a3a" stroke-width="2.5"/>
<circle cx="2050.6" cy="3540.4" r="7.9" fill="url(#gW)" stroke="#3a3a3a" stroke-width="2.5"/>
<circle cx="1787.1" cy="3571.5" r="7.9" fill="url(#gW)" stroke="#3a3a3a" stroke-width="2.5"/>
<circle cx="1713.2" cy="3660.8" r="7.9" fill="url(#gW)" stroke="#3a3a3a" stroke-width="2.5"/>
<circle cx="1968.2" cy="3486.0" r="7.9" fill="url(#gW)" stroke="#3a3a3a" stroke-width="2.5"/>
<circle cx="1786.3" cy="3888.2" r="7.9" fill="url(#gW)" stroke="#3a3a3a" stroke-width="2.5"/>
<circle cx="2038.6" cy="3934.2" r="7.9" fill="url(#gW)" stroke="#3a3a3a" stroke-width="2.5"/>
<circle cx="1862.8" cy="3492.9" r="7.9" fill="url(#gW)" stroke="#3a3a3a" stroke-width="2.5"/>
<circle cx="2134.6" cy="3872.8" r="7.9" fill="url(#gW)" stroke="#3a3a3a" stroke-width="2.5"/>
<circle cx="2196.4" cy="3783.6" r="7.9" fill="url(#gW)" stroke="#3a3a3a" stroke-width="2.5"/>
<circle cx="1928.5" cy="3960.9" r="7.9" fill="url(#gW)" stroke="#3a3a3a" stroke-width="2.5"/>
<circle cx="1692.1" cy="3762.0" r="7.9" fill="url(#gW)" stroke="#3a3a3a" stroke-width="2.5"/>
<circle cx="2170.9" cy="3586.7" r="7.9" fill="url(#gW)" stroke="#3a3a3a" stroke-width="2.5"/>
<circle cx="2210.5" cy="3681.2" r="7.9" fill="url(#gW)" stroke="#3a3a3a" stroke-width="2.5"/>
<circle cx="2071.6" cy="3485.1" r="7.9" fill="url(#gW)" stroke="#3a3a3a" stroke-width="2.5"/>
<circle cx="1749.0" cy="3536.0" r="7.9" fill="url(#gW)" stroke="#3a3a3a" stroke-width="2.5"/>
<circle cx="1828.0" cy="3954.6" r="7.9" fill="url(#gW)" stroke="#3a3a3a" stroke-width="2.5"/>
<circle cx="1711.2" cy="3856.1" r="7.9" fill="url(#gW)" stroke="#3a3a3a" stroke-width="2.5"/>
<circle cx="1682.6" cy="3619.5" r="7.9" fill="url(#gW)" stroke="#3a3a3a" stroke-width="2.5"/>
<circle cx="1854.4" cy="3458.5" r="7.9" fill="url(#gW)" stroke="#3a3a3a" stroke-width="2.5"/>
<circle cx="1981.9" cy="3445.4" r="7.9" fill="url(#gW)" stroke="#3a3a3a" stroke-width="2.5"/>
<circle cx="2064.4" cy="3963.4" r="7.9" fill="url(#gW)" stroke="#3a3a3a" stroke-width="2.5"/>
<circle cx="2157.8" cy="3900.9" r="7.9" fill="url(#gW)" stroke="#3a3a3a" stroke-width="2.5"/>
<circle cx="2149.2" cy="3519.0" r="7.9" fill="url(#gW)" stroke="#3a3a3a" stroke-width="2.5"/>
<circle cx="1659.2" cy="3719.0" r="7.9" fill="url(#gW)" stroke="#3a3a3a" stroke-width="2.5"/>
<circle cx="2219.5" cy="3809.3" r="7.9" fill="url(#gW)" stroke="#3a3a3a" stroke-width="2.5"/>
<circle cx="1959.6" cy="3989.1" r="7.9" fill="url(#gW)" stroke="#3a3a3a" stroke-width="2.5"/>
<circle cx="2237.7" cy="3702.7" r="7.9" fill="url(#gW)" stroke="#3a3a3a" stroke-width="2.5"/>
<circle cx="2211.1" cy="3599.3" r="7.9" fill="url(#gW)" stroke="#3a3a3a" stroke-width="2.5"/>
<path d="M1921.2,3902.2L1867.9,3814.5M1921.2,3902.2L1839.9,3929.5M1921.2,3902.2L1998.7,3852.2M1921.2,3902.2L1949.6,3965.6M1867.9,3814.5L1771.6,3805.3M1867.9,3814.5L1944.0,3748.1M1839.9,3929.5L1949.6,3965.6M1839.9,3929.5L1750.9,3890.4M1839.9,3929.5L1871.0,3977.5M1998.7,3852.2L2066.3,3899.7M1998.7,3852.2L2056.9,3758.5M1771.6,3805.3L1797.5,3710.8M1771.6,3805.3L1698.8,3790.7M1949.6,3965.6L1871.0,3977.5M1949.6,3965.6L2051.5,3961.3M1944.0,3748.1L2056.9,3758.5M1944.0,3748.1L1902.4,3652.9M1750.9,3890.4L1698.8,3790.7M1750.9,3890.4L1760.9,3925.1M2066.3,3899.7L2051.5,3961.3M2066.3,3899.7L2137.5,3823.5M1797.5,3710.8L1902.4,3652.9M1797.5,3710.8L1723.3,3676.8M1871.0,3977.5L1959.6,3989.1M2056.9,3758.5L2041.0,3657.6M1698.8,3790.7L1679.5,3816.8M2051.5,3961.3L2142.9,3906.4M2051.5,3961.3L2064.4,3963.4M1902.4,3652.9L1827.7,3593.5M1902.4,3652.9L1980.1,3571.8M2137.5,3823.5L2156.7,3721.9M2137.5,3823.5L2202.3,3817.2M1723.3,3676.8L1671.6,3684.7M1723.3,3676.8L1751.4,3572.0M2041.0,3657.6L1980.1,3571.8M2041.0,3657.6L2127.7,3617.8M2142.9,3906.4L2202.3,3817.2M2142.9,3906.4L2157.8,3900.9M1827.7,3593.5L1751.4,3572.0M1827.7,3593.5L1897.6,3515.2M2156.7,3721.9L2127.7,3617.8M2156.7,3721.9L2217.9,3710.1M1671.6,3684.7L1659.2,3719.0M1671.6,3684.7L1697.6,3584.4M1980.1,3571.8L1897.6,3515.2M1980.1,3571.8L2062.1,3529.7M2202.3,3817.2L2217.9,3710.1M2202.3,3817.2L2219.5,3809.3M1751.4,3572.0L1697.6,3584.4M1751.4,3572.0L1817.5,3493.5M2127.7,3617.8L2062.1,3529.7M2127.7,3617.8L2189.3,3603.6M1897.6,3515.2L1978.9,3471.0M2217.9,3710.1L2237.7,3702.7M1697.6,3584.4L1762.3,3504.1M2062.1,3529.7L1978.9,3471.0M2062.1,3529.7L2126.3,3515.2M1817.5,3493.5L1762.3,3504.1M1817.5,3493.5L1901.5,3447.9M2189.3,3603.6L2126.3,3515.2M2189.3,3603.6L2211.1,3599.3M1978.9,3471.0L1901.5,3447.9M1978.9,3471.0L2048.2,3459.4M2126.3,3515.2L2048.2,3459.4M2126.3,3515.2L2149.2,3519.0M1901.5,3447.9L1854.4,3458.5" stroke="#3c3c3c" stroke-width="7" fill="none" stroke-linecap="round"/>
<path d="M1921.2,3902.2L1867.9,3814.5M1921.2,3902.2L1839.9,3929.5M1921.2,3902.2L1998.7,3852.2M1921.2,3902.2L1949.6,3965.6M1867.9,3814.5L1771.6,3805.3M1867.9,3814.5L1944.0,3748.1M1839.9,3929.5L1949.6,3965.6M1839.9,3929.5L1750.9,3890.4M1839.9,3929.5L1871.0,3977.5M1998.7,3852.2L2066.3,3899.7M1998.7,3852.2L2056.9,3758.5M1771.6,3805.3L1797.5,3710.8M1771.6,3805.3L1698.8,3790.7M1949.6,3965.6L1871.0,3977.5M1949.6,3965.6L2051.5,3961.3M1944.0,3748.1L2056.9,3758.5M1944.0,3748.1L1902.4,3652.9M1750.9,3890.4L1698.8,3790.7M1750.9,3890.4L1760.9,3925.1M2066.3,3899.7L2051.5,3961.3M2066.3,3899.7L2137.5,3823.5M1797.5,3710.8L1902.4,3652.9M1797.5,3710.8L1723.3,3676.8M1871.0,3977.5L1959.6,3989.1M2056.9,3758.5L2041.0,3657.6M1698.8,3790.7L1679.5,3816.8M2051.5,3961.3L2142.9,3906.4M2051.5,3961.3L2064.4,3963.4M1902.4,3652.9L1827.7,3593.5M1902.4,3652.9L1980.1,3571.8M2137.5,3823.5L2156.7,3721.9M2137.5,3823.5L2202.3,3817.2M1723.3,3676.8L1671.6,3684.7M1723.3,3676.8L1751.4,3572.0M2041.0,3657.6L1980.1,3571.8M2041.0,3657.6L2127.7,3617.8M2142.9,3906.4L2202.3,3817.2M2142.9,3906.4L2157.8,3900.9M1827.7,3593.5L1751.4,3572.0M1827.7,3593.5L1897.6,3515.2M2156.7,3721.9L2127.7,3617.8M2156.7,3721.9L2217.9,3710.1M1671.6,3684.7L1659.2,3719.0M1671.6,3684.7L1697.6,3584.4M1980.1,3571.8L1897.6,3515.2M1980.1,3571.8L2062.1,3529.7M2202.3,3817.2L2217.9,3710.1M2202.3,3817.2L2219.5,3809.3M1751.4,3572.0L1697.6,3584.4M1751.4,3572.0L1817.5,3493.5M2127.7,3617.8L2062.1,3529.7M2127.7,3617.8L2189.3,3603.6M1897.6,3515.2L1978.9,3471.0M2217.9,3710.1L2237.7,3702.7M1697.6,3584.4L1762.3,3504.1M2062.1,3529.7L1978.9,3471.0M2062.1,3529.7L2126.3,3515.2M1817.5,3493.5L1762.3,3504.1M1817.5,3493.5L1901.5,3447.9M2189.3,3603.6L2126.3,3515.2M2189.3,3603.6L2211.1,3599.3M1978.9,3471.0L1901.5,3447.9M1978.9,3471.0L2048.2,3459.4M2126.3,3515.2L2048.2,3459.4M2126.3,3515.2L2149.2,3519.0M1901.5,3447.9L1854.4,3458.5" stroke="#dcdcdc" stroke-width="2.5" fill="none" stroke-linecap="round"/>
<ellipse cx="1835.0" cy="3405.0" rx="47.5" ry="37.5" fill="url(#gM)"/>
<ellipse cx="1900.0" cy="3425.0" rx="22.5" ry="20.0" fill="url(#gM)"/>
<ellipse cx="1675.0" cy="3495.0" rx="50.0" ry="52.5" fill="url(#gM)"/>
<ellipse cx="1840.0" cy="3480.0" rx="45.0" ry="35.0" fill="url(#gM)"/>
<ellipse cx="1620.0" cy="3685.0" rx="35.0" ry="50.0" fill="url(#gM)"/>
<ellipse cx="1710.0" cy="3710.0" rx="25.0" ry="50.0" fill="url(#gM)"/>
<ellipse cx="1935.0" cy="3710.0" rx="190.0" ry="157.5" fill="url(#gP)"/>
<ellipse cx="1950.0" cy="3595.0" rx="65.0" ry="55.0" fill="url(#gM)"/>
<ellipse cx="1830.0" cy="3630.0" rx="55.0" ry="65.0" fill="url(#gM)"/>
<ellipse cx="1770.0" cy="3540.0" rx="55.0" ry="50.0" fill="url(#gM)"/>
<ellipse cx="2070.0" cy="3460.0" rx="25.0" ry="22.5" fill="url(#gM)"/>
<ellipse cx="2035.0" cy="3505.0" rx="20.0" ry="20.0" fill="url(#gM)"/>
<ellipse cx="2200.0" cy="3585.0" rx="25.0" ry="27.5" fill="url(#gM)"/>
<ellipse cx="2225.0" cy="3630.0" rx="30.0" ry="30.0" fill="url(#gM)"/>
<ellipse cx="2170.0" cy="3650.0" rx="30.0" ry="70.0" fill="url(#gM)"/>
<ellipse cx="2220.0" cy="3745.0" rx="45.0" ry="55.0" fill="url(#gM)"/>
<ellipse cx="2165.0" cy="3910.0" rx="37.5" ry="37.5" fill="url(#gM)"/>
<ellipse cx="2070.0" cy="3875.0" rx="40.0" ry="37.5" fill="url(#gM)"/>
<ellipse cx="2090.0" cy="3930.0" rx="22.5" ry="22.5" fill="url(#gM)"/>
<ellipse cx="1900.0" cy="3955.0" rx="35.0" ry="32.5" fill="url(#gM)"/>
<ellipse cx="1960.0" cy="4010.0" rx="22.5" ry="20.0" fill="url(#gM)"/>
<ellipse cx="1725.0" cy="3845.0" rx="25.0" ry="30.0" fill="url(#gM)"/>
<ellipse cx="1810.0" cy="3845.0" rx="25.0" ry="25.0" fill="url(#gM)"/>
<ellipse cx="1890.0" cy="3795.0" rx="30.0" ry="40.0" fill="url(#gM)"/>
<ellipse cx="2030.0" cy="3825.0" rx="30.0" ry="27.5" fill="url(#gM)"/>
<ellipse cx="2125.0" cy="3850.0" rx="20.0" ry="20.0" fill="url(#gM)"/>
<ellipse cx="1900.0" cy="3890.0" rx="17.5" ry="17.5" fill="url(#gM)"/>
<ellipse cx="1760.0" cy="3480.0" rx="37.5" ry="27.5" fill="url(#gY)"/>
<ellipse cx="1945.0" cy="3430.0" rx="22.5" ry="20.0" fill="url(#gY)"/>
<ellipse cx="1995.0" cy="3425.0" rx="15.0" ry="10.0" fill="url(#gY)"/>
<ellipse cx="1880.0" cy="3545.0" rx="35.0" ry="32.5" fill="url(#gY)"/>
<ellipse cx="1890.0" cy="3595.0" rx="25.0" ry="20.0" fill="url(#gY)"/>
<ellipse cx="1640.0" cy="3610.0" rx="30.0" ry="30.0" fill="url(#gY)"/>
<ellipse cx="1707.5" cy="3660.0" rx="32.5" ry="37.5" fill="url(#gY)"/>
<ellipse cx="1765.0" cy="3675.0" rx="20.0" ry="25.0" fill="url(#gY)"/>
<ellipse cx="1755.0" cy="3770.0" rx="27.5" ry="27.5" fill="url(#gY)"/>
<ellipse cx="1800.0" cy="3750.0" rx="25.0" ry="22.5" fill="url(#gY)"/>
<ellipse cx="2055.0" cy="3660.0" rx="32.5" ry="30.0" fill="url(#gY)"/>
<ellipse cx="2110.0" cy="3680.0" rx="20.0" ry="22.5" fill="url(#gY)"/>
<ellipse cx="2095.0" cy="3755.0" rx="32.5" ry="27.5" fill="url(#gY)"/>
<ellipse cx="2135.0" cy="3770.0" rx="22.5" ry="25.0" fill="url(#gY)"/>
<ellipse cx="2205.0" cy="3810.0" rx="27.5" ry="30.0" fill="url(#gY)"/>
<ellipse cx="2165.0" cy="3790.0" rx="15.0" ry="15.0" fill="url(#gY)"/>
<ellipse cx="1940.0" cy="3830.0" rx="27.5" ry="25.0" fill="url(#gY)"/>
<ellipse cx="1950.0" cy="3880.0" rx="32.5" ry="30.0" fill="url(#gY)"/>
<ellipse cx="2140.0" cy="3510.0" rx="10.0" ry="10.0" fill="url(#gY)"/>
<ellipse cx="2110.0" cy="3535.0" rx="7.5" ry="7.5" fill="url(#gY)"/>
<ellipse cx="1940.0" cy="3485.0" rx="12.5" ry="12.5" fill="url(#gY)"/>
<ellipse cx="1980.0" cy="3470.0" rx="7.5" ry="7.5" fill="url(#gY)"/>
<path d="M1921.2,3902.2L1867.9,3814.5M1921.2,3902.2L1839.9,3929.5M1921.2,3902.2L1998.7,3852.2M1921.2,3902.2L1949.6,3965.6M1867.9,3814.5L1771.6,3805.3M1867.9,3814.5L1944.0,3748.1M1839.9,3929.5L1949.6,3965.6M1839.9,3929.5L1750.9,3890.4M1839.9,3929.5L1871.0,3977.5M1998.7,3852.2L2066.3,3899.7M1998.7,3852.2L2056.9,3758.5M1771.6,3805.3L1797.5,3710.8M1771.6,3805.3L1698.8,3790.7M1949.6,3965.6L1871.0,3977.5M1949.6,3965.6L2051.5,3961.3M1944.0,3748.1L2056.9,3758.5M1944.0,3748.1L1902.4,3652.9M1750.9,3890.4L1698.8,3790.7M1750.9,3890.4L1760.9,3925.1M2066.3,3899.7L2051.5,3961.3M2066.3,3899.7L2137.5,3823.5M1797.5,3710.8L1902.4,3652.9M1797.5,3710.8L1723.3,3676.8M1871.0,3977.5L1959.6,3989.1M2056.9,3758.5L2041.0,3657.6M1698.8,3790.7L1679.5,3816.8M2051.5,3961.3L2142.9,3906.4M2051.5,3961.3L2064.4,3963.4M1902.4,3652.9L1827.7,3593.5M1902.4,3652.9L1980.1,3571.8M2137.5,3823.5L2156.7,3721.9M2137.5,3823.5L2202.3,3817.2M1723.3,3676.8L1671.6,3684.7M1723.3,3676.8L1751.4,3572.0M2041.0,3657.6L1980.1,3571.8M2041.0,3657.6L2127.7,3617.8M2142.9,3906.4L2202.3,3817.2M2142.9,3906.4L2157.8,3900.9M1827.7,3593.5L1751.4,3572.0M1827.7,3593.5L1897.6,3515.2M2156.7,3721.9L2127.7,3617.8M2156.7,3721.9L2217.9,3710.1M1671.6,3684.7L1659.2,3719.0M1671.6,3684.7L1697.6,3584.4M1980.1,3571.8L1897.6,3515.2M1980.1,3571.8L2062.1,3529.7M2202.3,3817.2L2217.9,3710.1M2202.3,3817.2L2219.5,3809.3M1751.4,3572.0L1697.6,3584.4M1751.4,3572.0L1817.5,3493.5M2127.7,3617.8L2062.1,3529.7M2127.7,3617.8L2189.3,3603.6M1897.6,3515.2L1978.9,3471.0M2217.9,3710.1L2237.7,3702.7M1697.6,3584.4L1762.3,3504.1M2062.1,3529.7L1978.9,3471.0M2062.1,3529.7L2126.3,3515.2M1817.5,3493.5L1762.3,3504.1M1817.5,3493.5L1901.5,3447.9M2189.3,3603.6L2126.3,3515.2M2189.3,3603.6L2211.1,3599.3M1978.9,3471.0L1901.5,3447.9M1978.9,3471.0L2048.2,3459.4M2126.3,3515.2L2048.2,3459.4M2126.3,3515.2L2149.2,3519.0M1901.5,3447.9L1854.4,3458.5" stroke="#d2e4d2" stroke-width="2.5" fill="none" stroke-linecap="round"/>
<circle cx="1760.9" cy="3925.1" r="8.4" fill="url(#gW)" stroke="#3a3a3a" stroke-width="2.5"/>
<circle cx="1762.3" cy="3504.1" r="8.5" fill="url(#gW)" stroke="#3a3a3a" stroke-width="2.5"/>
<circle cx="1679.5" cy="3816.8" r="8.6" fill="url(#gW)" stroke="#3a3a3a" stroke-width="2.5"/>
<circle cx="2048.2" cy="3459.4" r="8.7" fill="url(#gW)" stroke="#3a3a3a" stroke-width="2.5"/>
<circle cx="1871.0" cy="3977.5" r="8.7" fill="url(#gW)" stroke="#3a3a3a" stroke-width="2.5"/>
<circle cx="1697.6" cy="3584.4" r="8.8" fill="url(#gW)" stroke="#3a3a3a" stroke-width="2.5"/>
<circle cx="1901.5" cy="3447.9" r="8.8" fill="url(#gW)" stroke="#3a3a3a" stroke-width="2.5"/>
<circle cx="2142.9" cy="3906.4" r="8.9" fill="url(#gW)" stroke="#3a3a3a" stroke-width="2.5"/>
<circle cx="2051.5" cy="3961.3" r="9.0" fill="url(#gW)" stroke="#3a3a3a" stroke-width="2.5"/>
<circle cx="1671.6" cy="3684.7" r="9.0" fill="url(#gW)" stroke="#3a3a3a" stroke-width="2.5"/>
<circle cx="2202.3" cy="3817.2" r="9.0" fill="url(#gW)" stroke="#3a3a3a" stroke-width="2.5"/>
<circle cx="2126.3" cy="3515.2" r="9.0" fill="url(#gW)" stroke="#3a3a3a" stroke-width="2.5"/>
<circle cx="1750.9" cy="3890.4" r="9.2" fill="url(#gW)" stroke="#3a3a3a" stroke-width="2.5"/>
<circle cx="2217.9" cy="3710.1" r="9.2" fill="url(#gW)" stroke="#3a3a3a" stroke-width="2.5"/>
<circle cx="2189.3" cy="3603.6" r="9.2" fill="url(#gW)" stroke="#3a3a3a" stroke-width="2.5"/>
<circle cx="1817.5" cy="3493.5" r="9.2" fill="url(#gW)" stroke="#3a3a3a" stroke-width="2.5"/>
<circle cx="1949.6" cy="3965.6" r="9.3" fill="url(#gW)" stroke="#3a3a3a" stroke-width="2.5"/>
<circle cx="1698.8" cy="3790.7" r="9.3" fill="url(#gW)" stroke="#3a3a3a" stroke-width="2.5"/>
<circle cx="1978.9" cy="3471.0" r="9.3" fill="url(#gW)" stroke="#3a3a3a" stroke-width="2.5"/>
<circle cx="1839.9" cy="3929.5" r="9.5" fill="url(#gW)" stroke="#3a3a3a" stroke-width="2.5"/>
<circle cx="1751.4" cy="3572.0" r="9.5" fill="url(#gW)" stroke="#3a3a3a" stroke-width="2.5"/>
<circle cx="1723.3" cy="3676.8" r="9.7" fill="url(#gW)" stroke="#3a3a3a" stroke-width="2.5"/>
<circle cx="2066.3" cy="3899.7" r="9.7" fill="url(#gW)" stroke="#3a3a3a" stroke-width="2.5"/>
<circle cx="2062.1" cy="3529.7" r="9.7" fill="url(#gW)" stroke="#3a3a3a" stroke-width="2.5"/>
<circle cx="2137.5" cy="3823.5" r="9.8" fill="url(#gW)" stroke="#3a3a3a" stroke-width="2.5"/>
<circle cx="1897.6" cy="3515.2" r="9.8" fill="url(#gW)" stroke="#3a3a3a" stroke-width="2.5"/>
<circle cx="2156.7" cy="3721.9" r="9.9" fill="url(#gW)" stroke="#3a3a3a" stroke-width="2.5"/>
<circle cx="2127.7" cy="3617.8" r="9.9" fill="url(#gW)" stroke="#3a3a3a" stroke-width="2.5"/>
<circle cx="1771.6" cy="3805.3" r="9.9" fill="url(#gW)" stroke="#3a3a3a" stroke-width="2.5"/>
<circle cx="1921.2" cy="3902.2" r="9.9" fill="url(#gW)" stroke="#3a3a3a" stroke-width="2.5"/>
<circle cx="1827.7" cy="3593.5" r="10.1" fill="url(#gW)" stroke="#3a3a3a" stroke-width="2.5"/>
<circle cx="1980.1" cy="3571.8" r="10.2" fill="url(#gW)" stroke="#3a3a3a" stroke-width="2.5"/>
<circle cx="1998.7" cy="3852.2" r="10.2" fill="url(#gW)" stroke="#3a3a3a" stroke-width="2.5"/>
<circle cx="1797.5" cy="3710.8" r="10.2" fill="url(#gW)" stroke="#3a3a3a" stroke-width="2.5"/>
<circle cx="1867.9" cy="3814.5" r="10.3" fill="url(#gW)" stroke="#3a3a3a" stroke-width="2.5"/>
<circle cx="2056.9" cy="3758.5" r="10.3" fill="url(#gW)" stroke="#3a3a3a" stroke-width="2.5"/>
<circle cx="2041.0" cy="3657.6" r="10.3" fill="url(#gW)" stroke="#3a3a3a" stroke-width="2.5"/>
<circle cx="1902.4" cy="3652.9" r="10.4" fill="url(#gW)" stroke="#3a3a3a" stroke-width="2.5"/>
<circle cx="1944.0" cy="3748.1" r="10.5" fill="url(#gW)" stroke="#3a3a3a" stroke-width="2.5"/>
<circle cx="1915.0" cy="3705.0" r="16" fill="#2c5a34"/>
<path d="M865.4,2485.8L811.6,2473.0M865.4,2485.8L865.4,2474.5M811.6,2473.0L865.4,2474.5M811.6,2473.0L761.9,2443.7M811.6,2473.0L812.8,2449.8M865.4,2474.5L812.8,2449.8M865.4,2474.5L916.6,2454.0M761.9,2443.7L753.3,2417.6M941.3,2469.3L916.6,2454.0M941.3,2469.3L987.5,2440.7M812.8,2449.8L853.6,2429.2M916.6,2454.0L970.8,2428.8M916.6,2454.0L910.3,2407.4M753.3,2417.6L778.6,2396.3M753.3,2417.6L723.3,2360.1M987.5,2440.7L1012.5,2398.2M853.6,2429.2L910.3,2407.4M853.6,2429.2L827.2,2376.4M720.3,2383.9L723.3,2360.1M970.8,2428.8L1012.5,2398.2M970.8,2428.8L966.9,2381.8M778.6,2396.3L827.2,2376.4M778.6,2396.3L752.7,2339.8M910.3,2407.4L966.9,2381.8M910.3,2407.4L887.1,2355.0M723.3,2360.1L752.7,2339.8M723.3,2360.1L715.5,2303.6M1012.5,2398.2L1032.2,2362.4M1012.5,2398.2L1010.4,2351.3M827.2,2376.4L887.1,2355.0M827.2,2376.4L802.4,2320.3M966.9,2381.8L945.1,2329.7M752.7,2339.8L743.7,2283.2M1032.2,2362.4L1031.4,2315.7M887.1,2355.0L945.1,2329.7M887.1,2355.0L861.5,2298.9M715.5,2303.6L743.7,2283.2M715.5,2303.6L732.1,2250.3M1010.4,2351.3L1031.4,2315.7M1010.4,2351.3L988.2,2299.4M802.4,2320.3L861.5,2298.9M802.4,2320.3L791.4,2263.3M945.1,2329.7L988.2,2299.4M945.1,2329.7L916.5,2273.2M743.7,2283.2L791.4,2263.3M743.7,2283.2L760.3,2229.4M1031.4,2315.7L1026.1,2276.3M1031.4,2315.7L1006.1,2263.7M861.5,2298.9L916.5,2273.2M861.5,2298.9L847.2,2240.8M732.1,2250.3L760.3,2229.4M988.2,2299.4L1006.1,2263.7M791.4,2263.3L847.2,2240.8M916.5,2273.2L952.2,2241.6M760.3,2229.4L809.8,2208.4M1006.1,2263.7L991.6,2223.8M847.2,2240.8L809.8,2208.4M847.2,2240.8L894.6,2212.5M777.0,2202.6L821.3,2182.7M952.2,2241.6L894.6,2212.5M952.2,2241.6L948.4,2202.0M809.8,2208.4L821.3,2182.7M991.6,2223.8L948.4,2202.0M894.6,2212.5L873.9,2182.8M821.3,2182.7L873.9,2182.8M948.4,2202.0L922.2,2180.0M873.9,2182.8L922.2,2180.0" stroke="#b0b0b0" stroke-width="3" fill="none" stroke-linecap="round"/>
<circle cx="887.1" cy="2355.0" r="4.1" fill="url(#gW)" stroke="#111" stroke-width="2.4"/>
<circle cx="861.5" cy="2298.9" r="4.1" fill="url(#gW)" stroke="#111" stroke-width="2.4"/>
<circle cx="827.2" cy="2376.4" r="4.1" fill="url(#gW)" stroke="#111" stroke-width="2.4"/>
<circle cx="802.4" cy="2320.3" r="4.1" fill="url(#gW)" stroke="#111" stroke-width="2.4"/>
<circle cx="945.1" cy="2329.7" r="4.1" fill="url(#gW)" stroke="#111" stroke-width="2.4"/>
<circle cx="916.5" cy="2273.2" r="4.1" fill="url(#gW)" stroke="#111" stroke-width="2.4"/>
<circle cx="910.3" cy="2407.4" r="4.1" fill="url(#gW)" stroke="#111" stroke-width="2.4"/>
<circle cx="847.2" cy="2240.8" r="4.1" fill="url(#gW)" stroke="#111" stroke-width="2.4"/>
<circle cx="853.6" cy="2429.2" r="4.1" fill="url(#gW)" stroke="#111" stroke-width="2.4"/>
<circle cx="791.4" cy="2263.3" r="4.1" fill="url(#gW)" stroke="#111" stroke-width="2.4"/>
<circle cx="966.9" cy="2381.8" r="4.1" fill="url(#gW)" stroke="#111" stroke-width="2.4"/>
<circle cx="778.6" cy="2396.3" r="4.1" fill="url(#gW)" stroke="#111" stroke-width="2.4"/>
<circle cx="988.2" cy="2299.4" r="4.1" fill="url(#gW)" stroke="#111" stroke-width="2.4"/>
<circle cx="952.2" cy="2241.6" r="4.1" fill="url(#gW)" stroke="#111" stroke-width="2.4"/>
<circle cx="752.7" cy="2339.8" r="4.1" fill="url(#gW)" stroke="#111" stroke-width="2.4"/>
<circle cx="894.6" cy="2212.5" r="4.1" fill="url(#gW)" stroke="#111" stroke-width="2.4"/>
<circle cx="916.6" cy="2454.0" r="4.1" fill="url(#gW)" stroke="#111" stroke-width="2.4"/>
<circle cx="743.7" cy="2283.2" r="4.1" fill="url(#gW)" stroke="#111" stroke-width="2.4"/>
<circle cx="812.8" cy="2449.8" r="4.1" fill="url(#gW)" stroke="#111" stroke-width="2.4"/>
<circle cx="1010.4" cy="2351.3" r="4.1" fill="url(#gW)" stroke="#111" stroke-width="2.4"/>
<circle cx="809.8" cy="2208.4" r="4.1" fill="url(#gW)" stroke="#111" stroke-width="2.4"/>
<circle cx="970.8" cy="2428.8" r="4.1" fill="url(#gW)" stroke="#111" stroke-width="2.4"/>
<circle cx="1006.1" cy="2263.7" r="4.1" fill="url(#gW)" stroke="#111" stroke-width="2.4"/>
<circle cx="753.3" cy="2417.6" r="4.1" fill="url(#gW)" stroke="#111" stroke-width="2.4"/>
<circle cx="865.4" cy="2474.5" r="4.1" fill="url(#gW)" stroke="#111" stroke-width="2.4"/>
<circle cx="873.9" cy="2182.8" r="4.1" fill="url(#gW)" stroke="#111" stroke-width="2.4"/>
<circle cx="948.4" cy="2202.0" r="4.1" fill="url(#gW)" stroke="#111" stroke-width="2.4"/>
<circle cx="760.3" cy="2229.4" r="4.1" fill="url(#gW)" stroke="#111" stroke-width="2.4"/>
<circle cx="723.3" cy="2360.1" r="4.1" fill="url(#gW)" stroke="#111" stroke-width="2.4"/>
<circle cx="1012.5" cy="2398.2" r="4.1" fill="url(#gW)" stroke="#111" stroke-width="2.4"/>
<circle cx="1031.4" cy="2315.7" r="4.1" fill="url(#gW)" stroke="#111" stroke-width="2.4"/>
<circle cx="715.5" cy="2303.6" r="4.1" fill="url(#gW)" stroke="#111" stroke-width="2.4"/>
<circle cx="821.3" cy="2182.7" r="4.1" fill="url(#gW)" stroke="#111" stroke-width="2.4"/>
<circle cx="941.3" cy="2469.3" r="4.1" fill="url(#gW)" stroke="#111" stroke-width="2.4"/>
<circle cx="991.6" cy="2223.8" r="4.1" fill="url(#gW)" stroke="#111" stroke-width="2.4"/>
<circle cx="811.6" cy="2473.0" r="4.1" fill="url(#gW)" stroke="#111" stroke-width="2.4"/>
<circle cx="922.2" cy="2180.0" r="4.1" fill="url(#gW)" stroke="#111" stroke-width="2.4"/>
<circle cx="761.9" cy="2443.7" r="4.1" fill="url(#gW)" stroke="#111" stroke-width="2.4"/>
<circle cx="732.1" cy="2250.3" r="4.1" fill="url(#gW)" stroke="#111" stroke-width="2.4"/>
<circle cx="987.5" cy="2440.7" r="4.1" fill="url(#gW)" stroke="#111" stroke-width="2.4"/>
<path d="M865.4,2485.8L849.0,2470.9M865.4,2485.8L915.8,2478.1M849.0,2470.9L792.0,2450.4M849.0,2470.9L899.5,2454.6M915.8,2478.1L941.3,2469.3M915.8,2478.1L957.7,2447.1M792.0,2450.4L818.4,2427.5M792.0,2450.4L744.3,2413.3M899.5,2454.6L957.7,2447.1M899.5,2454.6L884.0,2414.4M761.9,2443.7L744.3,2413.3M818.4,2427.5L884.0,2414.4M818.4,2427.5L773.4,2388.8M957.7,2447.1L958.0,2408.9M744.3,2413.3L720.3,2383.9M884.0,2414.4L843.1,2373.8M884.0,2414.4L929.7,2367.6M987.5,2440.7L1008.3,2405.6M773.4,2388.8L733.9,2355.2M773.4,2388.8L794.6,2335.8M958.0,2408.9L929.7,2367.6M958.0,2408.9L1001.6,2365.9M720.3,2383.9L712.4,2327.0M843.1,2373.8L794.6,2335.8M843.1,2373.8L883.8,2326.5M1008.3,2405.6L1001.6,2365.9M1008.3,2405.6L1032.2,2362.4M733.9,2355.2L712.4,2327.0M733.9,2355.2L753.1,2302.3M929.7,2367.6L883.8,2326.5M929.7,2367.6L971.0,2324.1M794.6,2335.8L753.1,2302.3M794.6,2335.8L833.2,2288.2M1001.6,2365.9L971.0,2324.1M1001.6,2365.9L1026.2,2322.5M712.4,2327.0L730.0,2274.0M883.8,2326.5L925.1,2282.8M753.1,2302.3L791.2,2254.4M971.0,2324.1L925.1,2282.8M971.0,2324.1L997.2,2280.9M833.2,2288.2L791.2,2254.4M833.2,2288.2L876.2,2244.6M1026.2,2322.5L997.2,2280.9M1026.2,2322.5L1026.1,2276.3M730.0,2274.0L732.1,2250.3M730.0,2274.0L769.6,2226.1M925.1,2282.8L876.2,2244.6M925.1,2282.8L953.7,2240.3M791.2,2254.4L769.6,2226.1M791.2,2254.4L838.9,2211.6M997.2,2280.9L953.7,2240.3M997.2,2280.9L996.2,2235.3M876.2,2244.6L838.9,2211.6M1026.1,2276.3L996.2,2235.3M769.6,2226.1L777.0,2202.6M953.7,2240.3L909.6,2203.8M838.9,2211.6L829.4,2185.3M996.2,2235.3L991.6,2223.8M996.2,2235.3L949.2,2196.3M777.0,2202.6L829.4,2185.3M909.6,2203.8L949.2,2196.3M909.6,2203.8L886.3,2176.0M829.4,2185.3L886.3,2176.0M949.2,2196.3L886.3,2176.0M949.2,2196.3L922.2,2180.0M886.3,2176.0L922.2,2180.0" stroke="#444" stroke-width="3" fill="none" stroke-linecap="round"/>
<ellipse cx="704.4" cy="2278.4" rx="14.8" ry="16.7" fill="url(#gC)"/>
<ellipse cx="878.2" cy="2165.8" rx="11.1" ry="9.3" fill="url(#gC)"/>
<ellipse cx="807.4" cy="2313.8" rx="44.4" ry="37.0" fill="url(#gC)"/>
<ellipse cx="858.9" cy="2365.3" rx="37.0" ry="40.7" fill="url(#gC)"/>
<ellipse cx="915.2" cy="2323.5" rx="61.1" ry="85.1" fill="url(#gG)"/>
<ellipse cx="807.4" cy="2371.8" rx="48.1" ry="51.8" fill="url(#gG)"/>
<ellipse cx="839.6" cy="2281.6" rx="22.2" ry="18.5" fill="url(#gG)"/>
<ellipse cx="941.0" cy="2368.6" rx="24.1" ry="24.1" fill="url(#gC)"/>
<ellipse cx="691.5" cy="2384.6" rx="16.7" ry="29.6" fill="url(#gC)"/>
<ellipse cx="759.1" cy="2375.0" rx="22.2" ry="48.1" fill="url(#gC)" transform="rotate(-10 759.105102205054 2374.991147593755)"/>
<ellipse cx="1052.0" cy="2291.3" rx="20.4" ry="24.1" fill="url(#gC)"/>
<ellipse cx="987.7" cy="2384.6" rx="16.7" ry="42.6" fill="url(#gC)"/>
<ellipse cx="965.1" cy="2223.7" rx="13.0" ry="24.1" fill="url(#gC)" transform="rotate(-30 965.1247384516337 2223.695477225173)"/>
<ellipse cx="767.2" cy="2465.1" rx="14.8" ry="13.0" fill="url(#gC)"/>
<ellipse cx="794.5" cy="2465.1" rx="9.3" ry="11.1" fill="url(#gC)"/>
<ellipse cx="879.8" cy="2254.3" rx="13.0" ry="13.0" fill="url(#gC)"/>
<ellipse cx="749.4" cy="2336.4" rx="14.8" ry="16.7" fill="url(#gC)"/>
<ellipse cx="846.0" cy="2201.2" rx="7.4" ry="11.1" fill="url(#gC)"/>
<ellipse cx="978.0" cy="2291.3" rx="7.4" ry="37.0" fill="url(#gC)"/>
<ellipse cx="949.0" cy="2423.3" rx="5.6" ry="5.6" fill="url(#gC)"/>
<ellipse cx="736.6" cy="2246.2" rx="5.6" ry="5.6" fill="url(#gC)"/>
<ellipse cx="820.3" cy="2246.2" rx="14.8" ry="11.1" fill="url(#gC)"/>
<ellipse cx="831.5" cy="2169.0" rx="11.1" ry="11.1" fill="url(#gG)"/>
<ellipse cx="987.7" cy="2197.9" rx="16.7" ry="16.7" fill="url(#gG)"/>
<ellipse cx="812.2" cy="2226.9" rx="20.4" ry="20.4" fill="url(#gG)"/>
<ellipse cx="1005.4" cy="2268.8" rx="31.5" ry="37.0" fill="url(#gG)"/>
<ellipse cx="710.8" cy="2378.2" rx="20.4" ry="31.5" fill="url(#gG)"/>
<ellipse cx="733.4" cy="2432.9" rx="25.9" ry="27.8" fill="url(#gG)"/>
<ellipse cx="1029.5" cy="2387.9" rx="29.6" ry="37.0" fill="url(#gG)"/>
<ellipse cx="994.1" cy="2439.4" rx="14.8" ry="13.0" fill="url(#gG)"/>
<ellipse cx="736.6" cy="2291.3" rx="11.1" ry="20.4" fill="url(#gG)"/>
<ellipse cx="913.6" cy="2378.2" rx="37.0" ry="29.6" fill="url(#gG)"/>
<ellipse cx="1013.4" cy="2307.4" rx="18.5" ry="14.8" fill="url(#gG)"/>
<ellipse cx="788.1" cy="2432.9" rx="7.4" ry="7.4" fill="url(#gG)"/>
<ellipse cx="868.6" cy="2442.6" rx="5.6" ry="5.6" fill="url(#gG)"/>
<circle cx="720.3" cy="2383.9" r="4.4" fill="url(#gW)" stroke="#111" stroke-width="2.4"/>
<circle cx="865.4" cy="2485.8" r="4.4" fill="url(#gW)" stroke="#111" stroke-width="2.4"/>
<circle cx="1032.2" cy="2362.4" r="4.4" fill="url(#gW)" stroke="#111" stroke-width="2.4"/>
<circle cx="777.0" cy="2202.6" r="4.5" fill="url(#gW)" stroke="#111" stroke-width="2.4"/>
<circle cx="1026.1" cy="2276.3" r="4.5" fill="url(#gW)" stroke="#111" stroke-width="2.4"/>
<circle cx="915.8" cy="2478.1" r="4.6" fill="url(#gW)" stroke="#111" stroke-width="2.4"/>
<circle cx="712.4" cy="2327.0" r="4.6" fill="url(#gW)" stroke="#111" stroke-width="2.4"/>
<circle cx="886.3" cy="2176.0" r="4.6" fill="url(#gW)" stroke="#111" stroke-width="2.4"/>
<circle cx="949.2" cy="2196.3" r="4.7" fill="url(#gW)" stroke="#111" stroke-width="2.4"/>
<circle cx="996.2" cy="2235.3" r="4.7" fill="url(#gW)" stroke="#111" stroke-width="2.4"/>
<circle cx="1008.3" cy="2405.6" r="4.7" fill="url(#gW)" stroke="#111" stroke-width="2.4"/>
<circle cx="744.3" cy="2413.3" r="4.7" fill="url(#gW)" stroke="#111" stroke-width="2.4"/>
<circle cx="829.4" cy="2185.3" r="4.7" fill="url(#gW)" stroke="#111" stroke-width="2.4"/>
<circle cx="730.0" cy="2274.0" r="4.8" fill="url(#gW)" stroke="#111" stroke-width="2.4"/>
<circle cx="1026.2" cy="2322.5" r="4.8" fill="url(#gW)" stroke="#111" stroke-width="2.4"/>
<circle cx="792.0" cy="2450.4" r="4.8" fill="url(#gW)" stroke="#111" stroke-width="2.4"/>
<circle cx="849.0" cy="2470.9" r="4.8" fill="url(#gW)" stroke="#111" stroke-width="2.4"/>
<circle cx="957.7" cy="2447.1" r="4.8" fill="url(#gW)" stroke="#111" stroke-width="2.4"/>
<circle cx="769.6" cy="2226.1" r="4.9" fill="url(#gW)" stroke="#111" stroke-width="2.4"/>
<circle cx="733.9" cy="2355.2" r="4.9" fill="url(#gW)" stroke="#111" stroke-width="2.4"/>
<circle cx="909.6" cy="2203.8" r="5.0" fill="url(#gW)" stroke="#111" stroke-width="2.4"/>
<circle cx="1001.6" cy="2365.9" r="5.0" fill="url(#gW)" stroke="#111" stroke-width="2.4"/>
<circle cx="997.2" cy="2280.9" r="5.0" fill="url(#gW)" stroke="#111" stroke-width="2.4"/>
<circle cx="899.5" cy="2454.6" r="5.0" fill="url(#gW)" stroke="#111" stroke-width="2.4"/>
<circle cx="838.9" cy="2211.6" r="5.1" fill="url(#gW)" stroke="#111" stroke-width="2.4"/>
<circle cx="753.1" cy="2302.3" r="5.1" fill="url(#gW)" stroke="#111" stroke-width="2.4"/>
<circle cx="953.7" cy="2240.3" r="5.1" fill="url(#gW)" stroke="#111" stroke-width="2.4"/>
<circle cx="958.0" cy="2408.9" r="5.2" fill="url(#gW)" stroke="#111" stroke-width="2.4"/>
<circle cx="773.4" cy="2388.8" r="5.2" fill="url(#gW)" stroke="#111" stroke-width="2.4"/>
<circle cx="818.4" cy="2427.5" r="5.2" fill="url(#gW)" stroke="#111" stroke-width="2.4"/>
<circle cx="791.2" cy="2254.4" r="5.2" fill="url(#gW)" stroke="#111" stroke-width="2.4"/>
<circle cx="971.0" cy="2324.1" r="5.3" fill="url(#gW)" stroke="#111" stroke-width="2.4"/>
<circle cx="884.0" cy="2414.4" r="5.3" fill="url(#gW)" stroke="#111" stroke-width="2.4"/>
<circle cx="876.2" cy="2244.6" r="5.3" fill="url(#gW)" stroke="#111" stroke-width="2.4"/>
<circle cx="794.6" cy="2335.8" r="5.4" fill="url(#gW)" stroke="#111" stroke-width="2.4"/>
<circle cx="925.1" cy="2282.8" r="5.4" fill="url(#gW)" stroke="#111" stroke-width="2.4"/>
<circle cx="929.7" cy="2367.6" r="5.4" fill="url(#gW)" stroke="#111" stroke-width="2.4"/>
<circle cx="833.2" cy="2288.2" r="5.4" fill="url(#gW)" stroke="#111" stroke-width="2.4"/>
<circle cx="843.1" cy="2373.8" r="5.4" fill="url(#gW)" stroke="#111" stroke-width="2.4"/>
<circle cx="883.8" cy="2326.5" r="5.5" fill="url(#gW)" stroke="#111" stroke-width="2.4"/>
<path d="M2132.4,2473.6L2119.6,2474.6M2060.7,2476.0L2119.6,2474.6M2060.7,2476.0L2029.6,2453.5M2191.5,2453.6L2182.0,2450.5M1982.3,2437.2L2029.6,2453.5M1982.3,2437.2L1955.5,2391.4M2119.6,2474.6L2182.0,2450.5M2119.6,2474.6L2092.0,2452.3M1931.1,2363.8L1955.5,2391.4M1931.1,2363.8L1926.0,2305.2M2240.6,2409.5L2233.3,2405.3M2029.6,2453.5L2092.0,2452.3M2029.6,2453.5L2003.6,2409.3M2182.0,2450.5L2155.7,2429.2M1955.5,2391.4L1949.1,2333.3M2268.2,2349.1L2262.2,2345.5M2092.0,2452.3L2155.7,2429.2M2092.0,2452.3L2065.1,2408.9M1926.0,2305.2L1949.1,2333.3M1926.0,2305.2L1947.5,2248.1M2233.3,2405.3L2262.2,2345.5M2233.3,2405.3L2206.4,2385.4M2003.6,2409.3L2065.1,2408.9M2003.6,2409.3L1995.2,2350.1M2268.5,2282.8L2262.9,2281.3M1952.9,2221.4L1947.5,2248.1M1952.9,2221.4L1997.0,2180.8M2155.7,2429.2L2206.4,2385.4M2155.7,2429.2L2125.5,2385.6M1949.1,2333.3L1995.2,2350.1M1949.1,2333.3L1971.0,2273.1M2262.2,2345.5L2262.9,2281.3M2262.2,2345.5L2231.7,2327.4M2065.1,2408.9L2125.5,2385.6M2065.1,2408.9L2053.6,2345.7M2242.7,2222.2L2235.5,2225.5M1947.5,2248.1L1971.0,2273.1M2206.4,2385.4L2231.7,2327.4M1995.2,2350.1L2053.6,2345.7M2262.9,2281.3L2235.5,2225.5M1997.0,2180.8L1997.8,2205.2M2125.5,2385.6L2168.4,2339.4M2198.5,2178.1L2149.5,2159.7M1971.0,2273.1L2020.4,2282.4M2231.7,2327.4L2221.8,2266.5M2075.6,2150.2L2058.6,2169.9M2053.6,2345.7L2020.4,2282.4M2053.6,2345.7L2107.6,2310.9M2235.5,2225.5L2221.8,2266.5M2235.5,2225.5L2185.4,2194.1M1997.8,2205.2L2058.6,2169.9M1997.8,2205.2L2039.9,2224.7M2168.4,2339.4L2107.6,2310.9M2168.4,2339.4L2171.2,2273.1M2149.5,2159.7L2185.4,2194.1M2149.5,2159.7L2117.3,2179.7M2020.4,2282.4L2039.9,2224.7M2221.8,2266.5L2171.2,2273.1M2058.6,2169.9L2117.3,2179.7M2107.6,2310.9L2091.9,2252.3M2185.4,2194.1L2117.3,2179.7M2185.4,2194.1L2149.1,2222.1M2039.9,2224.7L2091.9,2252.3M2171.2,2273.1L2149.1,2222.1M2117.3,2179.7L2149.1,2222.1M2091.9,2252.3L2149.1,2222.1" stroke="#b0b0b0" stroke-width="3" fill="none" stroke-linecap="round"/>
<circle cx="2107.6" cy="2310.9" r="4.1" fill="url(#gW)" stroke="#111" stroke-width="2.4"/>
<circle cx="2053.6" cy="2345.7" r="4.1" fill="url(#gW)" stroke="#111" stroke-width="2.4"/>
<circle cx="2091.9" cy="2252.3" r="4.1" fill="url(#gW)" stroke="#111" stroke-width="2.4"/>
<circle cx="2168.4" cy="2339.4" r="4.1" fill="url(#gW)" stroke="#111" stroke-width="2.4"/>
<circle cx="2125.5" cy="2385.6" r="4.1" fill="url(#gW)" stroke="#111" stroke-width="2.4"/>
<circle cx="2020.4" cy="2282.4" r="4.1" fill="url(#gW)" stroke="#111" stroke-width="2.4"/>
<circle cx="2171.2" cy="2273.1" r="4.1" fill="url(#gW)" stroke="#111" stroke-width="2.4"/>
<circle cx="2065.1" cy="2408.9" r="4.1" fill="url(#gW)" stroke="#111" stroke-width="2.4"/>
<circle cx="2149.1" cy="2222.1" r="4.1" fill="url(#gW)" stroke="#111" stroke-width="2.4"/>
<circle cx="1995.2" cy="2350.1" r="4.1" fill="url(#gW)" stroke="#111" stroke-width="2.4"/>
<circle cx="2039.9" cy="2224.7" r="4.1" fill="url(#gW)" stroke="#111" stroke-width="2.4"/>
<circle cx="2206.4" cy="2385.4" r="4.1" fill="url(#gW)" stroke="#111" stroke-width="2.4"/>
<circle cx="2221.8" cy="2266.5" r="4.1" fill="url(#gW)" stroke="#111" stroke-width="2.4"/>
<circle cx="1971.0" cy="2273.1" r="4.1" fill="url(#gW)" stroke="#111" stroke-width="2.4"/>
<circle cx="2155.7" cy="2429.2" r="4.1" fill="url(#gW)" stroke="#111" stroke-width="2.4"/>
<circle cx="2231.7" cy="2327.4" r="4.1" fill="url(#gW)" stroke="#111" stroke-width="2.4"/>
<circle cx="2003.6" cy="2409.3" r="4.1" fill="url(#gW)" stroke="#111" stroke-width="2.4"/>
<circle cx="2117.3" cy="2179.7" r="4.1" fill="url(#gW)" stroke="#111" stroke-width="2.4"/>
<circle cx="2092.0" cy="2452.3" r="4.1" fill="url(#gW)" stroke="#111" stroke-width="2.4"/>
<circle cx="1949.1" cy="2333.3" r="4.1" fill="url(#gW)" stroke="#111" stroke-width="2.4"/>
<circle cx="1997.8" cy="2205.2" r="4.1" fill="url(#gW)" stroke="#111" stroke-width="2.4"/>
<circle cx="2185.4" cy="2194.1" r="4.1" fill="url(#gW)" stroke="#111" stroke-width="2.4"/>
<circle cx="2058.6" cy="2169.9" r="4.1" fill="url(#gW)" stroke="#111" stroke-width="2.4"/>
<circle cx="2029.6" cy="2453.5" r="4.1" fill="url(#gW)" stroke="#111" stroke-width="2.4"/>
<circle cx="1955.5" cy="2391.4" r="4.1" fill="url(#gW)" stroke="#111" stroke-width="2.4"/>
<circle cx="1947.5" cy="2248.1" r="4.1" fill="url(#gW)" stroke="#111" stroke-width="2.4"/>
<circle cx="2233.3" cy="2405.3" r="4.1" fill="url(#gW)" stroke="#111" stroke-width="2.4"/>
<circle cx="2235.5" cy="2225.5" r="4.1" fill="url(#gW)" stroke="#111" stroke-width="2.4"/>
<circle cx="2182.0" cy="2450.5" r="4.1" fill="url(#gW)" stroke="#111" stroke-width="2.4"/>
<circle cx="2262.2" cy="2345.5" r="4.1" fill="url(#gW)" stroke="#111" stroke-width="2.4"/>
<circle cx="2262.9" cy="2281.3" r="4.1" fill="url(#gW)" stroke="#111" stroke-width="2.4"/>
<circle cx="2149.5" cy="2159.7" r="4.1" fill="url(#gW)" stroke="#111" stroke-width="2.4"/>
<circle cx="2119.6" cy="2474.6" r="4.1" fill="url(#gW)" stroke="#111" stroke-width="2.4"/>
<circle cx="1926.0" cy="2305.2" r="4.1" fill="url(#gW)" stroke="#111" stroke-width="2.4"/>
<circle cx="1997.0" cy="2180.8" r="4.1" fill="url(#gW)" stroke="#111" stroke-width="2.4"/>
<circle cx="1982.3" cy="2437.2" r="4.1" fill="url(#gW)" stroke="#111" stroke-width="2.4"/>
<circle cx="2075.6" cy="2150.2" r="4.1" fill="url(#gW)" stroke="#111" stroke-width="2.4"/>
<circle cx="2060.7" cy="2476.0" r="4.1" fill="url(#gW)" stroke="#111" stroke-width="2.4"/>
<circle cx="1931.1" cy="2363.8" r="4.1" fill="url(#gW)" stroke="#111" stroke-width="2.4"/>
<circle cx="2198.5" cy="2178.1" r="4.1" fill="url(#gW)" stroke="#111" stroke-width="2.4"/>
<path d="M2089.7,2423.7L2080.4,2365.9M2089.7,2423.7L2029.1,2427.7M2089.7,2423.7L2146.5,2405.3M2089.7,2423.7L2081.3,2463.2M2080.4,2365.9L2019.5,2346.8M2080.4,2365.9L2137.9,2337.6M2029.1,2427.7L2081.3,2463.2M2029.1,2427.7L1978.1,2392.2M2029.1,2427.7L2022.2,2458.3M2146.5,2405.3L2166.7,2441.1M2146.5,2405.3L2196.3,2358.5M2019.5,2346.8L2054.4,2295.4M2019.5,2346.8L1966.8,2327.1M2081.3,2463.2L2022.2,2458.3M2081.3,2463.2L2132.4,2473.6M2137.9,2337.6L2196.3,2358.5M2137.9,2337.6L2127.1,2276.1M1978.1,2392.2L1966.8,2327.1M1978.1,2392.2L1962.0,2412.2M2166.7,2441.1L2132.4,2473.6M2166.7,2441.1L2219.4,2406.1M2054.4,2295.4L2127.1,2276.1M2054.4,2295.4L2006.3,2264.4M2022.2,2458.3L2060.7,2476.0M2196.3,2358.5L2202.8,2297.2M1966.8,2327.1L1935.3,2338.1M2132.4,2473.6L2191.5,2453.6M2127.1,2276.1L2086.0,2230.4M2127.1,2276.1L2177.5,2238.4M1962.0,2412.2L1982.3,2437.2M1962.0,2412.2L1931.1,2363.8M2219.4,2406.1L2247.5,2349.3M2219.4,2406.1L2240.6,2409.5M2006.3,2264.4L1960.1,2260.5M2006.3,2264.4L2033.1,2206.3M2202.8,2297.2L2177.5,2238.4M2202.8,2297.2L2247.0,2284.4M1935.3,2338.1L1931.1,2363.8M1935.3,2338.1L1930.4,2277.2M2191.5,2453.6L2240.6,2409.5M2086.0,2230.4L2033.1,2206.3M2086.0,2230.4L2130.8,2193.2M2247.5,2349.3L2247.0,2284.4M2247.5,2349.3L2268.2,2349.1M1960.1,2260.5L1930.4,2277.2M1960.1,2260.5L1984.3,2204.6M2177.5,2238.4L2130.8,2193.2M2177.5,2238.4L2219.5,2223.5M2240.6,2409.5L2268.2,2349.1M2033.1,2206.3L1984.3,2204.6M2033.1,2206.3L2075.6,2168.4M2247.0,2284.4L2219.5,2223.5M2247.0,2284.4L2268.5,2282.8M1930.4,2277.2L1952.9,2221.4M2130.8,2193.2L2172.9,2177.1M1984.3,2204.6L2026.5,2165.6M2219.5,2223.5L2172.9,2177.1M2219.5,2223.5L2242.7,2222.2M2075.6,2168.4L2026.5,2165.6M2075.6,2168.4L2119.8,2151.9M2268.5,2282.8L2242.7,2222.2M2172.9,2177.1L2119.8,2151.9M2172.9,2177.1L2198.5,2178.1M2026.5,2165.6L1997.0,2180.8M2026.5,2165.6L2075.6,2150.2M2242.7,2222.2L2198.5,2178.1M2119.8,2151.9L2075.6,2150.2" stroke="#444" stroke-width="3" fill="none" stroke-linecap="round"/>
<ellipse cx="2039.0" cy="2132.2" rx="29.6" ry="24.1" fill="url(#gC)"/>
<ellipse cx="1944.1" cy="2185.3" rx="27.8" ry="27.8" fill="url(#gC)"/>
<ellipse cx="1989.2" cy="2172.4" rx="11.1" ry="14.8" fill="url(#gC)"/>
<ellipse cx="1910.3" cy="2296.4" rx="24.1" ry="29.6" fill="url(#gC)"/>
<ellipse cx="1918.3" cy="2359.1" rx="16.7" ry="14.8" fill="url(#gC)"/>
<ellipse cx="2034.2" cy="2286.7" rx="61.1" ry="77.7" fill="url(#gC)"/>
<ellipse cx="2101.8" cy="2325.3" rx="40.7" ry="40.7" fill="url(#gC)"/>
<ellipse cx="2119.5" cy="2251.3" rx="37.0" ry="33.3" fill="url(#gC)"/>
<ellipse cx="2055.1" cy="2299.6" rx="37.0" ry="40.7" fill="url(#gG)"/>
<ellipse cx="2142.1" cy="2331.8" rx="61.1" ry="61.1" fill="url(#gG)"/>
<ellipse cx="2101.8" cy="2325.3" rx="40.7" ry="40.7" fill="url(#gC)"/>
<ellipse cx="2219.3" cy="2306.0" rx="22.2" ry="55.5" fill="url(#gC)"/>
<ellipse cx="2183.9" cy="2412.2" rx="46.3" ry="22.2" fill="url(#gC)" transform="rotate(-20 2183.905681635281 2412.2485111862225)"/>
<ellipse cx="2174.2" cy="2169.2" rx="11.1" ry="11.1" fill="url(#gC)"/>
<ellipse cx="2180.7" cy="2225.5" rx="11.1" ry="9.3" fill="url(#gC)"/>
<ellipse cx="2019.7" cy="2373.6" rx="14.8" ry="14.8" fill="url(#gC)"/>
<ellipse cx="1990.8" cy="2383.3" rx="9.3" ry="11.1" fill="url(#gC)"/>
<ellipse cx="2241.8" cy="2351.1" rx="13.0" ry="20.4" fill="url(#gC)"/>
<ellipse cx="2270.8" cy="2360.7" rx="11.1" ry="14.8" fill="url(#gC)"/>
<ellipse cx="1990.8" cy="2212.7" rx="29.6" ry="29.6" fill="url(#gG)"/>
<ellipse cx="2042.3" cy="2177.3" rx="37.0" ry="14.8" fill="url(#gG)" transform="rotate(-20 2042.2671817157573 2177.2573635924673)"/>
<ellipse cx="1955.4" cy="2296.4" rx="11.1" ry="70.3" fill="url(#gG)" transform="rotate(3 1955.3526476742315 2296.3624657975215)"/>
<ellipse cx="2264.4" cy="2280.3" rx="20.4" ry="24.1" fill="url(#gG)"/>
<ellipse cx="2261.2" cy="2335.0" rx="22.2" ry="27.8" fill="url(#gG)"/>
<ellipse cx="2219.3" cy="2438.0" rx="20.4" ry="20.4" fill="url(#gG)"/>
<ellipse cx="2074.5" cy="2145.1" rx="11.1" ry="7.4" fill="url(#gG)"/>
<ellipse cx="2154.9" cy="2196.6" rx="9.3" ry="9.3" fill="url(#gG)"/>
<ellipse cx="2243.5" cy="2244.9" rx="9.3" ry="9.3" fill="url(#gG)"/>
<ellipse cx="1961.8" cy="2396.2" rx="9.3" ry="14.8" fill="url(#gG)"/>
<ellipse cx="2026.2" cy="2364.0" rx="14.8" ry="9.3" fill="url(#gG)"/>
<ellipse cx="1919.9" cy="2265.8" rx="7.4" ry="7.4" fill="url(#gG)"/>
<ellipse cx="2138.8" cy="2399.4" rx="11.1" ry="9.3" fill="url(#gG)"/>
<circle cx="2074.5" cy="2312.5" r="8" fill="#1d8a1d"/>
<ellipse cx="2063.0" cy="2460.0" rx="17.5" ry="15.0" fill="url(#gC)"/>
<ellipse cx="2173.0" cy="2410.0" rx="40.0" ry="12.5" fill="url(#gC)" transform="rotate(-30 2173.0 2410.0)"/>
<ellipse cx="1928.0" cy="2365.0" rx="17.5" ry="15.0" fill="url(#gC)"/>
<ellipse cx="2180.5" cy="2455.0" rx="15.0" ry="12.5" fill="url(#gG)"/>
<ellipse cx="2103.0" cy="2485.0" rx="12.5" ry="10.0" fill="url(#gG)"/>
<ellipse cx="1963.0" cy="2395.0" rx="10.0" ry="12.5" fill="url(#gG)"/>
<ellipse cx="2075.5" cy="2427.5" rx="15.0" ry="15.0" fill="url(#gG)"/>
<ellipse cx="2223.0" cy="2440.0" rx="17.5" ry="20.0" fill="url(#gG)"/>
<circle cx="1952.9" cy="2221.4" r="4.4" fill="url(#gW)" stroke="#111" stroke-width="2.4"/>
<circle cx="2240.6" cy="2409.5" r="4.5" fill="url(#gW)" stroke="#111" stroke-width="2.4"/>
<circle cx="2191.5" cy="2453.6" r="4.5" fill="url(#gW)" stroke="#111" stroke-width="2.4"/>
<circle cx="2268.2" cy="2349.1" r="4.5" fill="url(#gW)" stroke="#111" stroke-width="2.4"/>
<circle cx="2242.7" cy="2222.2" r="4.5" fill="url(#gW)" stroke="#111" stroke-width="2.4"/>
<circle cx="2268.5" cy="2282.8" r="4.5" fill="url(#gW)" stroke="#111" stroke-width="2.4"/>
<circle cx="2119.8" cy="2151.9" r="4.6" fill="url(#gW)" stroke="#111" stroke-width="2.4"/>
<circle cx="2026.5" cy="2165.6" r="4.6" fill="url(#gW)" stroke="#111" stroke-width="2.4"/>
<circle cx="1930.4" cy="2277.2" r="4.6" fill="url(#gW)" stroke="#111" stroke-width="2.4"/>
<circle cx="2132.4" cy="2473.6" r="4.6" fill="url(#gW)" stroke="#111" stroke-width="2.4"/>
<circle cx="1962.0" cy="2412.2" r="4.6" fill="url(#gW)" stroke="#111" stroke-width="2.4"/>
<circle cx="2022.2" cy="2458.3" r="4.7" fill="url(#gW)" stroke="#111" stroke-width="2.4"/>
<circle cx="1935.3" cy="2338.1" r="4.8" fill="url(#gW)" stroke="#111" stroke-width="2.4"/>
<circle cx="2172.9" cy="2177.1" r="4.8" fill="url(#gW)" stroke="#111" stroke-width="2.4"/>
<circle cx="1984.3" cy="2204.6" r="4.8" fill="url(#gW)" stroke="#111" stroke-width="2.4"/>
<circle cx="2081.3" cy="2463.2" r="4.9" fill="url(#gW)" stroke="#111" stroke-width="2.4"/>
<circle cx="2219.4" cy="2406.1" r="4.9" fill="url(#gW)" stroke="#111" stroke-width="2.4"/>
<circle cx="2075.6" cy="2168.4" r="4.9" fill="url(#gW)" stroke="#111" stroke-width="2.4"/>
<circle cx="2219.5" cy="2223.5" r="4.9" fill="url(#gW)" stroke="#111" stroke-width="2.4"/>
<circle cx="2247.5" cy="2349.3" r="4.9" fill="url(#gW)" stroke="#111" stroke-width="2.4"/>
<circle cx="2247.0" cy="2284.4" r="4.9" fill="url(#gW)" stroke="#111" stroke-width="2.4"/>
<circle cx="2166.7" cy="2441.1" r="5.0" fill="url(#gW)" stroke="#111" stroke-width="2.4"/>
<circle cx="1960.1" cy="2260.5" r="5.0" fill="url(#gW)" stroke="#111" stroke-width="2.4"/>
<circle cx="1978.1" cy="2392.2" r="5.0" fill="url(#gW)" stroke="#111" stroke-width="2.4"/>
<circle cx="2029.1" cy="2427.7" r="5.1" fill="url(#gW)" stroke="#111" stroke-width="2.4"/>
<circle cx="1966.8" cy="2327.1" r="5.1" fill="url(#gW)" stroke="#111" stroke-width="2.4"/>
<circle cx="2130.8" cy="2193.2" r="5.1" fill="url(#gW)" stroke="#111" stroke-width="2.4"/>
<circle cx="2033.1" cy="2206.3" r="5.1" fill="url(#gW)" stroke="#111" stroke-width="2.4"/>
<circle cx="2089.7" cy="2423.7" r="5.2" fill="url(#gW)" stroke="#111" stroke-width="2.4"/>
<circle cx="2177.5" cy="2238.4" r="5.2" fill="url(#gW)" stroke="#111" stroke-width="2.4"/>
<circle cx="2196.3" cy="2358.5" r="5.3" fill="url(#gW)" stroke="#111" stroke-width="2.4"/>
<circle cx="2146.5" cy="2405.3" r="5.3" fill="url(#gW)" stroke="#111" stroke-width="2.4"/>
<circle cx="2202.8" cy="2297.2" r="5.3" fill="url(#gW)" stroke="#111" stroke-width="2.4"/>
<circle cx="2006.3" cy="2264.4" r="5.3" fill="url(#gW)" stroke="#111" stroke-width="2.4"/>
<circle cx="2086.0" cy="2230.4" r="5.3" fill="url(#gW)" stroke="#111" stroke-width="2.4"/>
<circle cx="2019.5" cy="2346.8" r="5.4" fill="url(#gW)" stroke="#111" stroke-width="2.4"/>
<circle cx="2080.4" cy="2365.9" r="5.4" fill="url(#gW)" stroke="#111" stroke-width="2.4"/>
<circle cx="2127.1" cy="2276.1" r="5.5" fill="url(#gW)" stroke="#111" stroke-width="2.4"/>
<circle cx="2054.4" cy="2295.4" r="5.5" fill="url(#gW)" stroke="#111" stroke-width="2.4"/>
<circle cx="2137.9" cy="2337.6" r="5.5" fill="url(#gW)" stroke="#111" stroke-width="2.4"/>
<defs>
<radialGradient id="gYa" cx="50%" cy="50%" r="55%" fx="50%" fy="48%">
<stop offset="0" stop-color="#fff86a"/><stop offset=".35" stop-color="#fadc3a"/><stop offset=".8" stop-color="#f0c020"/><stop offset="1" stop-color="#c89208"/></radialGradient>
<linearGradient id="gCr" x1="0" y1="0" x2="1" y2="1">
<stop offset="0" stop-color="#f6c828"/><stop offset=".5" stop-color="#fbe040"/><stop offset="1" stop-color="#d8a010"/></linearGradient>
<radialGradient id="gCa" cx="50%" cy="50%" r="50%" fx="50%" fy="45%">
<stop offset="0" stop-color="#9af8e0"/><stop offset=".35" stop-color="#20e8c8"/><stop offset=".6" stop-color="#108a80"/><stop offset=".8" stop-color="#1aa8e0"/><stop offset="1" stop-color="#40c0f0"/></radialGradient>
</defs>
<g transform="translate(734,1450) scale(1.0)">
<ellipse cx="-1.5" cy="-84" rx="29" ry="18" fill="url(#gCa)"/>
<ellipse cx="-64.5" cy="29" rx="20" ry="27" transform="rotate(-38 -64.5 29)" fill="url(#gCa)"/>
<ellipse cx="61.5" cy="28" rx="20" ry="27" transform="rotate(38 61.5 28)" fill="url(#gCa)"/>
<path d="M-64,-86 Q0,-50 62,-88 C80,-80 100,-45 95,-28 C92,-15 80,-10 68,-6 C45,5 30,25 28,45 L27,78 Q0,88 -26,80 L-30,45 C-32,25 -48,5 -72,-5 C-84,-10 -98,-18 -96,-28 C-98,-45 -80,-80 -64,-86 Z" fill="url(#gYa)" stroke="#c8900a" stroke-width="1.5"/>
<path d="M-58,-78 Q0,-40 56,-80" fill="none" stroke="#e8a800" stroke-width="5" opacity=".7"/>
<path d="M-62,0 C-40,10 -25,30 -22,70" fill="none" stroke="#d09a10" stroke-width="3" opacity=".6"/>
<path d="M60,0 C38,10 24,30 20,70" fill="none" stroke="#d09a10" stroke-width="3" opacity=".6"/>
<g transform="translate(0,-112) scale(1.0) translate(0,112)"><path d="M-52,-113 C-50,-136 -30,-157 -1.5,-157 C27,-157 47,-136 49,-115 C50,-109 46,-106 40,-107 Q0,-118 -42,-106 C-48,-105 -53,-107 -52,-113 Z" fill="url(#gCr)" stroke="#c8900a" stroke-width="1.5"/></g>
<path d="M-116,18 C-134,40 -114,80 -73,79 C-85,62 -100,40 -116,18 Z" fill="url(#gCr)" stroke="#c8900a" stroke-width="1.5"/>
<path d="M120,17 C138,40 118,80 77,80 C89,62 104,40 120,17 Z" fill="url(#gCr)" stroke="#c8900a" stroke-width="1.5"/>
</g>
<g transform="translate(1919,1458) scale(0.97)">
<ellipse cx="-1.5" cy="-84" rx="29" ry="18" fill="url(#gCa)"/>
<ellipse cx="-64.5" cy="29" rx="20" ry="27" transform="rotate(-38 -64.5 29)" fill="url(#gCa)"/>
<ellipse cx="61.5" cy="28" rx="20" ry="27" transform="rotate(38 61.5 28)" fill="url(#gCa)"/>
<path d="M-64,-86 Q0,-50 62,-88 C80,-80 100,-45 95,-28 C92,-15 80,-10 68,-6 C45,5 30,25 28,45 L27,78 Q0,88 -26,80 L-30,45 C-32,25 -48,5 -72,-5 C-84,-10 -98,-18 -96,-28 C-98,-45 -80,-80 -64,-86 Z" fill="url(#gYa)" stroke="#c8900a" stroke-width="1.5"/>
<path d="M-58,-78 Q0,-40 56,-80" fill="none" stroke="#e8a800" stroke-width="5" opacity=".7"/>
<path d="M-62,0 C-40,10 -25,30 -22,70" fill="none" stroke="#d09a10" stroke-width="3" opacity=".6"/>
<path d="M60,0 C38,10 24,30 20,70" fill="none" stroke="#d09a10" stroke-width="3" opacity=".6"/>
<g transform="translate(0,-112) scale(0.64) translate(0,112)"><path d="M-52,-113 C-50,-136 -30,-157 -1.5,-157 C27,-157 47,-136 49,-115 C50,-109 46,-106 40,-107 Q0,-118 -42,-106 C-48,-105 -53,-107 -52,-113 Z" fill="url(#gCr)" stroke="#c8900a" stroke-width="1.5"/></g>
<path d="M-126,-8 C-150,22 -128,88 -80,83 C-94,60 -104,22 -126,-8 Z" fill="url(#gCr)" stroke="#c8900a" stroke-width="1.5"/>
<path d="M128,-2 C150,28 128,88 80,84 C94,62 106,26 128,-2 Z" fill="url(#gCr)" stroke="#c8900a" stroke-width="1.5"/>
</g>
<g transform="matrix(1.03023 0 0 0.98200 -4.112 -2.869)"><text x="39" y="104" font-family="'Liberation Sans', Arial, sans-serif" font-size="80" font-style="normal" font-weight="normal" text-anchor="start" fill="#000" stroke="#000" stroke-width="1.2" stroke-linejoin="round" >(a)</text></g>
<g transform="matrix(1.03573 0 0 0.99159 -6.191 12.449)"><text x="64" y="1841" font-family="'Liberation Sans', Arial, sans-serif" font-size="80" font-style="normal" font-weight="normal" text-anchor="start" fill="#000" stroke="#000" stroke-width="1.2" stroke-linejoin="round" >(b)</text></g>
<g transform="matrix(1.04867 0 0 1.00410 -61.980 -10.163)"><text x="1192" y="1838" font-family="'Liberation Sans', Arial, sans-serif" font-size="80" font-style="normal" font-weight="normal" text-anchor="start" fill="#000" stroke="#000" stroke-width="1.2" stroke-linejoin="round" >(c)</text></g>
<g transform="matrix(1.02462 0 0 0.98432 -3.969 51.904)"><text x="45" y="3428" font-family="'Liberation Sans', Arial, sans-serif" font-size="80" font-style="normal" font-weight="normal" text-anchor="start" fill="#000" stroke="#000" stroke-width="1.2" stroke-linejoin="round" >(d)</text></g>
<g transform="matrix(0.94199 0 0 1.00771 40.855 -1.864)"><text x="731" y="90" font-family="'Liberation Sans', Arial, sans-serif" font-size="82" fill="#000" stroke="#000" stroke-width="0.8">Y<tspan font-size="56" dy="21">2</tspan><tspan dy="-21">Dy</tspan></text></g>
<g transform="matrix(0.94316 0 0 0.99889 69.037 -0.518)"><text x="1281" y="91" font-family="'Liberation Sans', Arial, sans-serif" font-size="82" fill="#000" stroke="#000" stroke-width="0.8">C<tspan font-size="56" dy="20" fill="#222">80</tspan></text></g>
<g transform="matrix(0.95147 0 0 1.01636 88.084 -2.168)"><text x="1840" y="90" font-family="'Liberation Sans', Arial, sans-serif" font-size="82" fill="#000" stroke="#000" stroke-width="0.8">YDy<tspan font-size="56" dy="21">2</tspan></text></g>
<g transform="matrix(1.04784 0 0 1.00058 -5.267 4.264)"><text transform="translate(148,1266) rotate(-90)" font-family="'Liberation Sans', Arial, sans-serif" font-size="66" fill="#000" stroke="#000" stroke-width="0.7">Molecular Orbital Energy (eV)</text></g>
<g transform="matrix(1.06194 0 0 0.98055 -8.927 60.324)"><text transform="translate(186,2850) rotate(-90)" font-family="'Liberation Sans', Arial, sans-serif" font-size="68" fill="#000" stroke="#000" stroke-width="0.7">Molecular Orbital Energy (eV)</text></g>
<g transform="matrix(1.04636 0 0 0.97294 -60.374 81.492)"><text transform="translate(1352,2832) rotate(-90)" font-family="'Liberation Sans', Arial, sans-serif" font-size="68" fill="#000" stroke="#000" stroke-width="0.7">Molecular Orbital Energy (eV)</text></g>
<g transform="matrix(1.09352 0 0 0.99201 -97.019 5.627)"><text x="1006" y="753" font-family="'Liberation Sans', Arial, sans-serif" font-size="78" font-style="italic" font-weight="normal" text-anchor="start" fill="#e24e06" stroke="#e24e06" stroke-width="2.4" stroke-linejoin="round" >Electron Transfer</text></g>
<g transform="matrix(0.92854 0 0 1.02281 24.385 -4.567)"><text x="327" y="153.0" font-family="'Liberation Sans', Arial, sans-serif" font-size="62" font-style="normal" font-weight="normal" text-anchor="end" fill="#000" stroke="#000" stroke-width="0.7" stroke-linejoin="round" >−1.0</text></g>
<g transform="matrix(0.92854 0 0 1.02281 24.385 -10.653)"><text x="327" y="423.8" font-family="'Liberation Sans', Arial, sans-serif" font-size="62" font-style="normal" font-weight="normal" text-anchor="end" fill="#000" stroke="#000" stroke-width="0.7" stroke-linejoin="round" >−2.0</text></g>
<g transform="matrix(0.92854 0 0 1.02281 24.385 -16.739)"><text x="327" y="694.6" font-family="'Liberation Sans', Arial, sans-serif" font-size="62" font-style="normal" font-weight="normal" text-anchor="end" fill="#000" stroke="#000" stroke-width="0.7" stroke-linejoin="round" >−3.0</text></g>
<g transform="matrix(0.92854 0 0 1.02281 24.385 -22.799)"><text x="327" y="965.4" font-family="'Liberation Sans', Arial, sans-serif" font-size="62" font-style="normal" font-weight="normal" text-anchor="end" fill="#000" stroke="#000" stroke-width="0.7" stroke-linejoin="round" >−4.0</text></g>
<g transform="matrix(0.92854 0 0 1.02281 24.385 -28.885)"><text x="327" y="1236.2" font-family="'Liberation Sans', Arial, sans-serif" font-size="62" font-style="normal" font-weight="normal" text-anchor="end" fill="#000" stroke="#000" stroke-width="0.7" stroke-linejoin="round" >−5.0</text></g>
<g transform="matrix(0.92854 0 0 1.02281 24.385 -35.449)"><text x="327" y="1507.0" font-family="'Liberation Sans', Arial, sans-serif" font-size="62" font-style="normal" font-weight="normal" text-anchor="end" fill="#000" stroke="#000" stroke-width="0.7" stroke-linejoin="round" >−6.0</text></g>
<g transform="matrix(0.92396 0 0 1.00000 27.854 -1.000)"><text x="342" y="1930.0" font-family="'Liberation Sans', Arial, sans-serif" font-size="58" font-style="normal" font-weight="normal" text-anchor="end" fill="#000" stroke="#000" stroke-width="0.7" stroke-linejoin="round" >−2.5</text></g>
<g transform="matrix(0.93711 0 0 1.00529 97.501 -11.051)"><text x="1514" y="1934.6" font-family="'Liberation Sans', Arial, sans-serif" font-size="60" font-style="normal" font-weight="normal" text-anchor="end" fill="#000" stroke="#000" stroke-width="0.7" stroke-linejoin="round" >−2.5</text></g>
<g transform="matrix(0.92478 0 0 1.00000 27.660 -0.650)"><text x="342" y="2054.3" font-family="'Liberation Sans', Arial, sans-serif" font-size="58" font-style="normal" font-weight="normal" text-anchor="end" fill="#000" stroke="#000" stroke-width="0.7" stroke-linejoin="round" >−3.0</text></g>
<g transform="matrix(0.93325 0 0 1.00529 102.903 -11.826)"><text x="1514" y="2059.8" font-family="'Liberation Sans', Arial, sans-serif" font-size="60" font-style="normal" font-weight="normal" text-anchor="end" fill="#000" stroke="#000" stroke-width="0.7" stroke-linejoin="round" >−3.0</text></g>
<g transform="matrix(0.92396 0 0 1.00000 27.854 -0.800)"><text x="342" y="2178.6" font-family="'Liberation Sans', Arial, sans-serif" font-size="58" font-style="normal" font-weight="normal" text-anchor="end" fill="#000" stroke="#000" stroke-width="0.7" stroke-linejoin="round" >−3.5</text></g>
<g transform="matrix(0.93711 0 0 1.00529 97.501 -12.625)"><text x="1514" y="2185.1" font-family="'Liberation Sans', Arial, sans-serif" font-size="60" font-style="normal" font-weight="normal" text-anchor="end" fill="#000" stroke="#000" stroke-width="0.7" stroke-linejoin="round" >−3.5</text></g>
<g transform="matrix(0.92478 0 0 1.00000 27.660 -0.950)"><text x="342" y="2302.9" font-family="'Liberation Sans', Arial, sans-serif" font-size="58" font-style="normal" font-weight="normal" text-anchor="end" fill="#000" stroke="#000" stroke-width="0.7" stroke-linejoin="round" >−4.0</text></g>
<g transform="matrix(0.93325 0 0 1.00529 102.903 -12.888)"><text x="1514" y="2310.3" font-family="'Liberation Sans', Arial, sans-serif" font-size="60" font-style="normal" font-weight="normal" text-anchor="end" fill="#000" stroke="#000" stroke-width="0.7" stroke-linejoin="round" >−4.0</text></g>
<g transform="matrix(0.92396 0 0 1.00071 27.854 -2.329)"><text x="342" y="2427.2" font-family="'Liberation Sans', Arial, sans-serif" font-size="58" font-style="normal" font-weight="normal" text-anchor="end" fill="#000" stroke="#000" stroke-width="0.7" stroke-linejoin="round" >−4.5</text></g>
<g transform="matrix(0.93711 0 0 1.01784 97.501 -44.272)"><text x="1514" y="2435.6" font-family="'Liberation Sans', Arial, sans-serif" font-size="60" font-style="normal" font-weight="normal" text-anchor="end" fill="#000" stroke="#000" stroke-width="0.7" stroke-linejoin="round" >−4.5</text></g>
<g transform="matrix(0.92478 0 0 1.00000 27.660 -0.750)"><text x="342" y="2551.5" font-family="'Liberation Sans', Arial, sans-serif" font-size="58" font-style="normal" font-weight="normal" text-anchor="end" fill="#000" stroke="#000" stroke-width="0.7" stroke-linejoin="round" >−5.0</text></g>
<g transform="matrix(0.93325 0 0 1.00529 102.903 -14.468)"><text x="1514" y="2560.8" font-family="'Liberation Sans', Arial, sans-serif" font-size="60" font-style="normal" font-weight="normal" text-anchor="end" fill="#000" stroke="#000" stroke-width="0.7" stroke-linejoin="round" >−5.0</text></g>
<g transform="matrix(0.92396 0 0 1.00071 27.854 -2.786)"><text x="342" y="2675.8" font-family="'Liberation Sans', Arial, sans-serif" font-size="58" font-style="normal" font-weight="normal" text-anchor="end" fill="#000" stroke="#000" stroke-width="0.7" stroke-linejoin="round" >−5.5</text></g>
<g transform="matrix(0.93711 0 0 1.01784 97.501 -48.996)"><text x="1514" y="2686.1" font-family="'Liberation Sans', Arial, sans-serif" font-size="60" font-style="normal" font-weight="normal" text-anchor="end" fill="#000" stroke="#000" stroke-width="0.7" stroke-linejoin="round" >−5.5</text></g>
<g transform="matrix(0.92478 0 0 1.00000 27.660 -1.050)"><text x="342" y="2800.1" font-family="'Liberation Sans', Arial, sans-serif" font-size="58" font-style="normal" font-weight="normal" text-anchor="end" fill="#000" stroke="#000" stroke-width="0.7" stroke-linejoin="round" >−6.0</text></g>
<g transform="matrix(0.93325 0 0 1.00529 102.903 -15.540)"><text x="1514" y="2811.3" font-family="'Liberation Sans', Arial, sans-serif" font-size="60" font-style="normal" font-weight="normal" text-anchor="end" fill="#000" stroke="#000" stroke-width="0.7" stroke-linejoin="round" >−6.0</text></g>
<g transform="matrix(0.92396 0 0 1.00000 27.854 -0.700)"><text x="342" y="2924.4" font-family="'Liberation Sans', Arial, sans-serif" font-size="58" font-style="normal" font-weight="normal" text-anchor="end" fill="#000" stroke="#000" stroke-width="0.7" stroke-linejoin="round" >−6.5</text></g>
<g transform="matrix(0.93711 0 0 1.00529 97.501 -16.354)"><text x="1514" y="2936.6" font-family="'Liberation Sans', Arial, sans-serif" font-size="60" font-style="normal" font-weight="normal" text-anchor="end" fill="#000" stroke="#000" stroke-width="0.7" stroke-linejoin="round" >−6.5</text></g>
<g transform="matrix(1.08710 0 0 1.00000 -50.942 -0.300)"><text x="585" y="1671" font-family="'Liberation Sans', Arial, sans-serif" font-size="66" font-style="normal" font-weight="normal" text-anchor="middle" fill="#000" stroke="#000" stroke-width="1.0" stroke-linejoin="round" >α</text></g>
<g transform="matrix(1.08371 0 0 0.99263 -80.445 10.536)"><text x="944" y="1671" font-family="'Liberation Sans', Arial, sans-serif" font-size="66" font-style="normal" font-weight="normal" text-anchor="middle" fill="#000" stroke="#000" stroke-width="1.0" stroke-linejoin="round" >β</text></g>
<g transform="matrix(1.07183 0 0 1.00000 -126.048 -0.300)"><text x="1758" y="1671" font-family="'Liberation Sans', Arial, sans-serif" font-size="66" font-style="normal" font-weight="normal" text-anchor="middle" fill="#000" stroke="#000" stroke-width="1.0" stroke-linejoin="round" >α</text></g>
<g transform="matrix(1.05022 0 0 0.99263 -106.281 10.536)"><text x="2106" y="1671" font-family="'Liberation Sans', Arial, sans-serif" font-size="66" font-style="normal" font-weight="normal" text-anchor="middle" fill="#000" stroke="#000" stroke-width="1.0" stroke-linejoin="round" >β</text></g>
<g transform="matrix(1.14248 0 0 1.15561 -84.047 -485.708)"><text x="590" y="3114" font-family="'Liberation Sans', Arial, sans-serif" font-size="66" font-style="normal" font-weight="normal" text-anchor="middle" fill="#000" stroke="#000" stroke-width="1.0" stroke-linejoin="round" >α</text></g>
<g transform="matrix(1.15773 0 0 1.08461 -153.042 -267.078)"><text x="962" y="3114" font-family="'Liberation Sans', Arial, sans-serif" font-size="66" font-style="normal" font-weight="normal" text-anchor="middle" fill="#000" stroke="#000" stroke-width="1.0" stroke-linejoin="round" >β</text></g>
<g transform="matrix(1.17176 0 0 1.15561 -307.466 -485.708)"><text x="1787" y="3114" font-family="'Liberation Sans', Arial, sans-serif" font-size="66" font-style="normal" font-weight="normal" text-anchor="middle" fill="#000" stroke="#000" stroke-width="1.0" stroke-linejoin="round" >α</text></g>
<g transform="matrix(1.15625 0 0 1.08461 -339.156 -267.081)"><text x="2160" y="3114" font-family="'Liberation Sans', Arial, sans-serif" font-size="66" font-style="normal" font-weight="normal" text-anchor="middle" fill="#000" stroke="#000" stroke-width="1.0" stroke-linejoin="round" >β</text></g>
<g transform="matrix(0.97808 0 0 1.06725 13.461 -172.650)"><text x="749" y="2571" font-family="'Liberation Sans', Arial, sans-serif" font-size="60" font-style="normal" font-weight="normal" text-anchor="start" fill="#000" stroke="#000" stroke-width="0.6" stroke-linejoin="round" >α-HOMO</text></g>
<g transform="matrix(0.97490 0 0 1.06177 47.517 -158.647)"><text x="1985" y="2568" font-family="'Liberation Sans', Arial, sans-serif" font-size="60" font-style="normal" font-weight="normal" text-anchor="start" fill="#000" stroke="#000" stroke-width="0.6" stroke-linejoin="round" >α-HOMO</text></g>
<g transform="matrix(0.98098 0 0 0.97260 8.967 89.890)"><text x="602" y="3264" font-family="'Liberation Sans', Arial, sans-serif" font-size="76" fill="#000" stroke="#000" stroke-width="0.8">Y<tspan font-size="52" dy="15">2</tspan><tspan dy="-15">Dy@C</tspan><tspan font-size="52" dy="15" fill="#222">80</tspan></text></g>
<g transform="matrix(0.97015 0 0 0.98413 51.955 52.162)"><text x="1800" y="3260" font-family="'Liberation Sans', Arial, sans-serif" font-size="76" fill="#000" stroke="#000" stroke-width="0.8">YDy<tspan font-size="52" dy="15">2</tspan><tspan dy="-15">@C</tspan><tspan font-size="52" dy="15" fill="#222">80</tspan></text></g>
<g transform="matrix(0.95793 0 0 0.98413 22.363 65.149)"><text x="583" y="4130" font-family="'Liberation Sans', Arial, sans-serif" font-size="76" fill="#000" stroke="#000" stroke-width="0.8">Y<tspan font-size="52" dy="15">2</tspan><tspan dy="-15">Dy@C</tspan><tspan font-size="52" dy="15" fill="#222">80</tspan></text></g>
<g transform="matrix(0.95071 0 0 0.98413 85.927 65.358)"><text x="1775" y="4130" font-family="'Liberation Sans', Arial, sans-serif" font-size="76" fill="#000" stroke="#000" stroke-width="0.8">YDy<tspan font-size="52" dy="15">2</tspan><tspan dy="-15">@C</tspan><tspan font-size="52" dy="15" fill="#222">80</tspan></text></g>
</svg></body></html>
